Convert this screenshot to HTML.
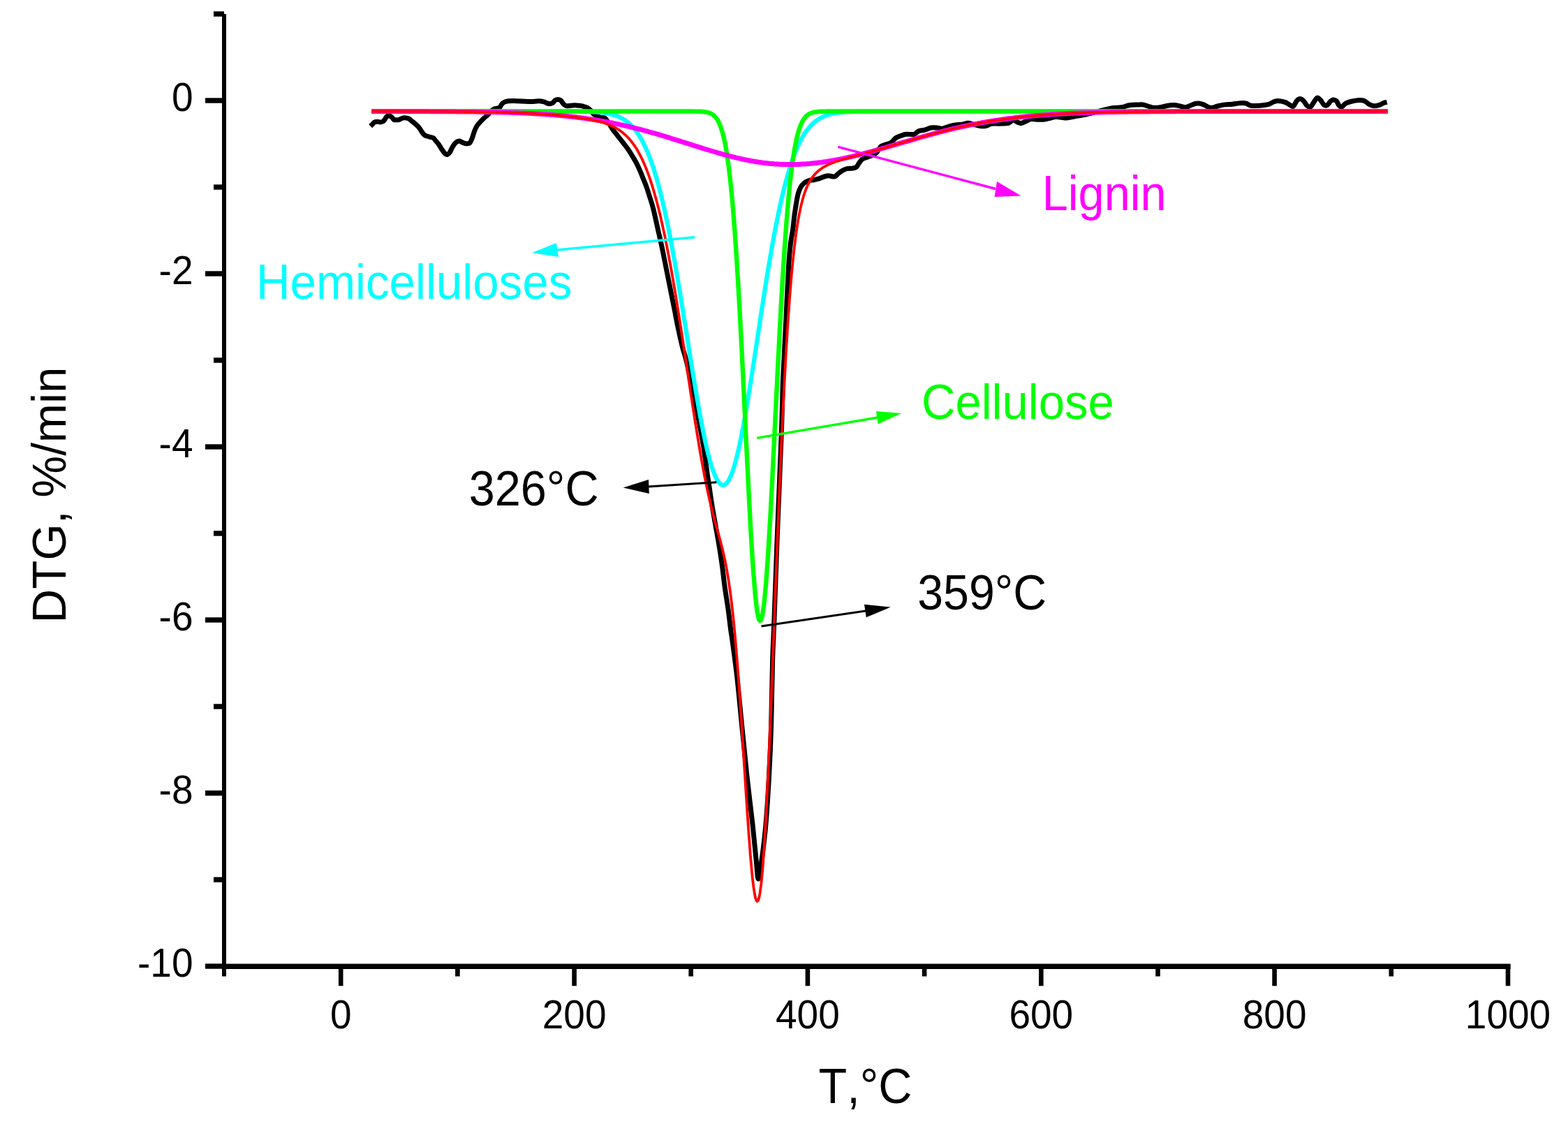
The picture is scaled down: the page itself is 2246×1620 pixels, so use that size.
<!DOCTYPE html>
<html><head><meta charset="utf-8"><title>DTG</title><style>
html,body{margin:0;padding:0;background:#fff;}
svg{display:block;}
.txt text{font-family:"Liberation Sans",Arial,sans-serif;font-kerning:none;white-space:pre;}
.tk{font-size:55px;fill:#000;}
</style></head><body>
<svg width="2246" height="1620" viewBox="0 0 2246 1620">
<rect width="2246" height="1620" fill="#fff"/>
<g fill="none" stroke-linejoin="round" stroke-linecap="butt">
<path d="M530.8,180.7 C531.3,180.2 532.9,178.6 533.9,177.6 C534.9,176.6 535.5,175.4 536.6,174.9 C537.7,174.4 539.2,174.3 540.6,174.3 C542.0,174.3 543.7,175.0 545.0,174.9 C546.3,174.8 547.6,174.7 548.6,174.0 C549.6,173.3 550.5,172.0 551.3,170.9 C552.1,169.8 552.7,168.2 553.5,167.4 C554.3,166.6 555.2,166.2 556.2,166.0 C557.2,165.8 558.3,166.1 559.3,166.5 C560.3,166.9 561.2,167.9 562.0,168.7 C562.8,169.5 563.3,170.9 564.2,171.4 C565.1,171.9 566.0,171.8 567.3,171.8 C568.5,171.8 570.4,171.8 571.7,171.4 C573.0,171.0 574.2,170.1 575.3,169.6 C576.4,169.1 577.1,168.8 578.4,168.7 C579.7,168.6 581.6,168.8 582.9,169.1 C584.2,169.4 585.3,169.8 586.4,170.5 C587.5,171.2 588.3,172.2 589.6,173.2 C590.9,174.2 592.5,175.4 594.0,176.7 C595.5,177.9 597.2,179.4 598.5,180.7 C599.8,182.0 600.5,183.1 601.6,184.7 C602.7,186.3 604.0,188.6 605.1,190.1 C606.2,191.6 607.2,192.8 608.3,193.6 C609.4,194.4 610.5,194.6 611.8,195.0 C613.1,195.4 614.8,195.9 616.3,196.3 C617.8,196.7 619.5,196.8 620.7,197.6 C622.0,198.4 622.5,199.7 623.8,201.2 C625.1,202.7 626.8,204.5 628.3,206.6 C629.8,208.7 631.2,211.5 632.7,213.7 C634.2,215.9 635.9,218.6 637.2,219.9 C638.6,221.2 639.6,221.6 640.8,221.3 C642.0,221.0 643.1,219.9 644.3,218.2 C645.5,216.5 646.6,213.2 647.9,211.0 C649.2,208.8 650.7,206.3 652.3,204.8 C653.9,203.3 656.1,202.2 657.7,202.1 C659.3,201.9 660.5,203.3 662.1,203.9 C663.7,204.5 665.7,205.5 667.5,205.7 C669.3,205.8 671.3,206.1 672.8,204.8 C674.3,203.5 675.2,200.7 676.4,197.7 C677.6,194.7 678.7,190.0 679.9,187.0 C681.1,184.0 682.0,182.1 683.5,179.9 C685.0,177.7 687.0,175.5 688.8,173.6 C690.6,171.7 692.4,169.9 694.2,168.3 C696.0,166.7 698.0,165.3 699.5,163.8 C701.0,162.3 701.6,160.7 703.1,159.4 C704.6,158.1 706.3,156.7 708.4,155.8 C710.5,154.9 713.8,155.3 715.6,154.0 C717.5,152.7 718.0,149.6 719.5,148.2 C721.0,146.8 722.6,145.9 724.8,145.3 C727.0,144.7 730.0,144.5 732.8,144.4 C735.6,144.3 738.3,144.7 741.7,144.8 C745.1,145.0 750.0,145.2 753.3,145.3 C756.6,145.4 758.2,145.6 761.3,145.5 C764.4,145.4 769.0,144.7 772.0,144.8 C775.0,144.9 776.7,145.3 779.1,145.9 C781.5,146.5 784.1,148.4 786.2,148.6 C788.3,148.8 790.1,148.1 791.6,147.3 C793.1,146.5 793.9,144.5 795.1,143.7 C796.3,142.9 797.4,142.4 798.7,142.4 C800.1,142.4 801.9,142.7 803.2,143.7 C804.5,144.7 805.4,147.3 806.7,148.6 C808.0,149.9 809.4,151.2 811.2,151.7 C813.0,152.1 815.3,151.5 817.4,151.3 C819.5,151.2 821.5,150.8 823.6,150.8 C825.7,150.8 828.0,151.1 829.9,151.3 C831.8,151.5 833.3,151.7 835.2,152.2 C837.1,152.7 839.5,153.3 841.4,154.4 C843.3,155.5 845.2,157.2 846.8,158.8 C848.4,160.4 849.0,162.6 851.2,164.2 C853.4,165.8 857.5,167.3 860.0,168.1 C862.5,168.9 864.0,167.8 865.9,168.9 C867.8,170.0 869.2,172.2 871.1,174.8 C873.0,177.4 874.8,181.2 877.0,184.4 C879.2,187.6 881.9,190.9 884.4,194.1 C886.9,197.3 889.4,200.5 891.9,203.7 C894.4,206.9 897.0,210.0 899.3,213.3 C901.6,216.6 903.8,220.2 905.9,223.7 C908.0,227.2 910.0,230.5 911.9,234.1 C913.8,237.7 915.4,241.5 917.0,245.2 C918.6,248.9 920.0,252.6 921.5,256.3 C923.0,260.0 924.5,263.4 925.9,267.4 C927.3,271.3 928.4,274.8 930.0,280.0 C931.6,285.2 933.6,290.6 935.6,298.4 C937.6,306.2 939.9,317.3 942.0,326.8 C944.1,336.3 946.4,345.7 948.4,355.2 C950.4,364.7 952.2,374.1 954.1,383.6 C956.0,393.1 957.9,402.5 959.8,412.0 C961.7,421.5 963.6,430.9 965.5,440.4 C967.4,449.9 969.1,459.3 971.1,468.8 C973.1,478.3 975.4,488.8 977.5,497.2 C979.6,505.6 980.6,505.7 983.7,519.3 C986.8,532.8 992.3,558.8 996.3,578.5 C1000.2,598.2 1004.6,620.9 1007.4,637.8 C1010.2,654.7 1011.9,670.5 1013.3,680.0 C1014.7,689.5 1014.5,687.4 1015.6,694.8 C1016.7,702.2 1018.4,714.5 1020.0,724.4 C1021.6,734.3 1023.5,744.2 1025.2,754.1 C1026.9,764.0 1028.8,773.8 1030.4,783.7 C1032.0,793.6 1033.5,803.4 1034.8,813.3 C1036.1,823.2 1037.1,833.1 1038.5,843.0 C1039.9,852.9 1041.6,862.7 1043.0,872.6 C1044.4,882.5 1045.7,894.8 1046.7,902.2 C1047.7,909.6 1047.4,905.6 1048.9,917.0 C1050.4,928.4 1053.5,949.8 1055.8,970.4 C1058.1,991.0 1060.4,1017.3 1062.8,1040.8 C1065.2,1064.2 1067.4,1087.6 1069.9,1111.1 C1072.5,1134.5 1075.9,1162.0 1078.1,1181.5 C1080.2,1201.0 1081.4,1215.5 1082.8,1228.4 C1084.2,1241.3 1084.8,1259.0 1086.3,1259.0 C1087.8,1259.0 1089.7,1241.3 1091.5,1228.4 C1093.3,1215.5 1095.2,1201.0 1096.9,1181.5 C1098.6,1162.0 1100.3,1134.5 1101.6,1111.1 C1102.9,1087.6 1103.8,1068.3 1104.6,1040.8 C1105.4,1013.3 1105.9,970.8 1106.6,946.0 C1107.3,921.2 1107.7,920.8 1108.8,892.0 C1109.9,863.2 1111.3,818.2 1113.1,773.0 C1114.8,727.8 1117.9,659.5 1119.3,620.8 C1120.7,582.0 1120.6,567.2 1121.7,540.5 C1122.8,513.8 1124.4,487.1 1125.7,460.3 C1127.0,433.6 1128.6,398.8 1129.7,380.0 C1130.8,361.2 1131.6,355.8 1132.6,347.5 C1133.6,339.2 1134.6,336.3 1135.5,330.0 C1136.4,323.7 1137.0,316.1 1137.8,309.6 C1138.6,303.1 1139.7,296.5 1140.6,291.1 C1141.5,285.7 1142.2,281.1 1143.3,277.2 C1144.4,273.3 1145.6,270.5 1147.0,268.0 C1148.4,265.5 1149.9,263.9 1151.7,262.4 C1153.5,260.8 1155.8,259.5 1158.1,258.7 C1160.4,257.9 1163.1,258.3 1165.6,257.8 C1168.1,257.3 1170.5,256.7 1173.0,255.9 C1175.5,255.1 1178.1,253.8 1180.4,253.1 C1182.7,252.4 1184.4,251.8 1186.9,251.8 C1189.4,251.8 1193.2,253.3 1195.2,253.1 C1197.2,252.9 1197.4,251.6 1198.9,250.4 C1200.4,249.2 1202.2,247.1 1204.4,245.7 C1206.6,244.3 1209.1,242.8 1211.9,242.0 C1214.7,241.2 1218.6,241.5 1221.1,241.1 C1223.6,240.7 1225.2,240.5 1226.7,239.3 C1228.2,238.1 1229.0,235.6 1230.4,233.7 C1231.8,231.8 1233.2,229.5 1235.0,228.1 C1236.8,226.7 1239.2,226.3 1241.5,225.4 C1243.8,224.5 1246.6,223.7 1248.9,222.6 C1251.2,221.5 1253.2,221.1 1255.4,218.9 C1257.6,216.7 1259.6,211.6 1261.9,209.6 C1264.2,207.6 1266.8,207.8 1269.3,206.9 C1271.8,206.0 1274.4,205.7 1276.7,204.1 C1279.0,202.5 1281.1,199.1 1283.1,197.6 C1285.1,196.1 1286.5,195.9 1288.9,195.0 C1291.4,194.1 1294.4,192.8 1297.8,192.3 C1301.2,191.9 1306.4,193.0 1309.4,192.3 C1312.4,191.6 1313.1,188.9 1315.6,187.9 C1318.1,186.9 1321.5,186.9 1324.5,186.1 C1327.5,185.3 1330.4,183.5 1333.4,183.0 C1336.4,182.5 1339.6,182.8 1342.3,183.0 C1345.0,183.2 1346.5,184.7 1349.5,184.3 C1352.5,183.9 1356.8,181.7 1360.1,180.8 C1363.3,179.9 1366.0,179.4 1369.0,179.0 C1372.0,178.6 1375.0,178.5 1378.0,178.1 C1381.0,177.7 1383.9,176.2 1386.9,176.3 C1389.9,176.4 1392.5,177.8 1395.8,178.5 C1399.0,179.2 1403.4,180.6 1406.4,180.8 C1409.4,181.0 1411.2,180.5 1413.6,179.9 C1416.0,179.3 1417.7,177.6 1420.7,177.2 C1423.7,176.8 1427.4,177.3 1431.4,177.2 C1435.4,177.0 1441.4,177.2 1444.7,176.3 C1448.0,175.4 1448.8,172.1 1451.0,171.9 C1453.2,171.8 1456.0,174.7 1458.1,175.4 C1460.2,176.1 1461.2,176.8 1463.4,176.3 C1465.6,175.9 1469.1,173.7 1471.5,172.7 C1473.9,171.7 1475.3,170.7 1477.6,170.4 C1479.9,170.2 1482.2,171.1 1485.1,171.2 C1488.0,171.3 1492.1,171.4 1495.0,171.2 C1497.9,170.9 1499.8,170.3 1502.6,169.7 C1505.4,169.1 1508.8,167.7 1511.6,167.4 C1514.4,167.1 1516.7,167.8 1519.2,168.1 C1521.7,168.3 1524.3,168.9 1526.8,168.9 C1529.3,168.9 1531.8,168.2 1534.3,167.8 C1536.8,167.4 1538.7,166.9 1541.9,166.3 C1545.1,165.7 1548.9,165.4 1553.3,164.4 C1557.7,163.4 1563.4,161.9 1568.4,160.6 C1573.4,159.3 1579.1,157.8 1583.5,156.8 C1587.9,155.8 1591.1,155.0 1594.9,154.5 C1598.7,154.0 1602.5,154.4 1606.3,153.8 C1610.1,153.2 1613.8,151.3 1617.6,150.7 C1621.4,150.1 1625.8,150.1 1629.0,150.0 C1632.2,149.9 1634.6,149.6 1637.1,149.9 C1639.6,150.2 1641.8,151.3 1644.2,152.0 C1646.6,152.7 1648.4,153.9 1651.4,154.2 C1654.4,154.5 1658.5,154.3 1662.0,153.8 C1665.5,153.3 1669.5,151.8 1672.7,151.3 C1675.9,150.8 1678.3,150.5 1681.3,150.6 C1684.3,150.7 1687.8,151.5 1690.5,152.0 C1693.2,152.5 1695.3,153.9 1697.7,153.8 C1700.1,153.7 1702.4,152.2 1704.8,151.3 C1707.2,150.4 1709.9,149.0 1711.9,148.5 C1713.9,148.0 1714.9,147.9 1716.9,148.1 C1718.9,148.3 1721.6,149.0 1724.0,149.9 C1726.4,150.8 1729.0,152.8 1731.1,153.5 C1733.2,154.2 1734.6,154.4 1736.8,154.2 C1739.0,153.9 1741.0,152.7 1744.0,152.0 C1747.0,151.3 1751.0,150.4 1754.6,149.9 C1758.1,149.4 1762.3,149.5 1765.3,149.2 C1768.3,148.9 1770.0,148.4 1772.4,148.1 C1774.9,147.8 1777.8,147.3 1780.0,147.4 C1782.2,147.5 1783.9,147.8 1785.9,148.4 C1787.9,149.1 1788.7,150.8 1791.8,151.3 C1794.9,151.8 1800.3,151.6 1804.5,151.3 C1808.7,151.0 1813.9,150.3 1817.2,149.4 C1820.5,148.5 1821.8,146.8 1824.1,146.0 C1826.4,145.2 1828.1,144.4 1830.9,144.5 C1833.7,144.6 1837.9,145.4 1840.7,146.4 C1843.5,147.4 1845.6,149.4 1847.6,150.4 C1849.6,151.4 1850.9,153.3 1852.5,152.3 C1854.1,151.3 1855.8,146.3 1857.4,144.5 C1859.0,142.7 1860.7,141.5 1862.3,141.5 C1863.9,141.5 1865.6,142.9 1867.2,144.5 C1868.8,146.1 1870.5,149.8 1872.1,151.3 C1873.7,152.8 1875.4,154.1 1877.0,153.3 C1878.6,152.5 1880.3,148.6 1881.9,146.4 C1883.5,144.2 1885.2,140.6 1886.8,140.1 C1888.4,139.6 1890.1,141.8 1891.7,143.5 C1893.3,145.2 1895.0,149.2 1896.6,150.4 C1898.2,151.6 1899.9,151.2 1901.4,150.4 C1902.9,149.6 1904.1,146.7 1905.4,145.5 C1906.7,144.3 1907.8,143.2 1909.3,143.0 C1910.8,142.8 1912.7,143.1 1914.2,144.5 C1915.7,145.9 1916.8,149.8 1918.1,151.3 C1919.4,152.8 1920.5,153.8 1922.0,153.3 C1923.5,152.8 1924.8,149.7 1926.9,148.4 C1929.0,147.1 1931.4,146.3 1934.7,145.5 C1938.0,144.7 1943.2,143.7 1946.5,143.5 C1949.8,143.3 1951.8,143.5 1954.3,144.5 C1956.8,145.5 1958.9,148.2 1961.2,149.4 C1963.5,150.6 1965.5,151.6 1968.0,151.8 C1970.5,152.0 1973.6,151.1 1975.9,150.4 C1978.2,149.7 1980.0,148.1 1981.8,147.4 C1983.6,146.7 1985.9,146.6 1986.7,146.4" stroke="#000" stroke-width="7"/>
<path d="M532.0,159.5 L532.8,159.5 L533.7,159.5 L534.5,159.5 L535.3,159.5 L536.2,159.5 L537.0,159.5 L537.9,159.5 L538.7,159.5 L539.5,159.5 L540.4,159.5 L541.2,159.5 L542.0,159.5 L542.9,159.5 L543.7,159.5 L544.5,159.5 L545.4,159.5 L546.2,159.5 L547.0,159.5 L547.9,159.5 L548.7,159.5 L549.6,159.5 L550.4,159.5 L551.2,159.5 L552.1,159.5 L552.9,159.5 L553.7,159.5 L554.6,159.5 L555.4,159.5 L556.2,159.5 L557.1,159.5 L557.9,159.5 L558.7,159.5 L559.6,159.5 L560.4,159.5 L561.3,159.5 L562.1,159.5 L562.9,159.5 L563.8,159.5 L564.6,159.5 L565.4,159.5 L566.3,159.5 L567.1,159.5 L567.9,159.5 L568.8,159.5 L569.6,159.5 L570.5,159.5 L571.3,159.5 L572.1,159.5 L573.0,159.5 L573.8,159.5 L574.6,159.5 L575.5,159.5 L576.3,159.5 L577.1,159.5 L578.0,159.5 L578.8,159.5 L579.6,159.5 L580.5,159.5 L581.3,159.5 L582.2,159.5 L583.0,159.5 L583.8,159.5 L584.7,159.5 L585.5,159.5 L586.3,159.5 L587.2,159.5 L588.0,159.5 L588.8,159.5 L589.7,159.5 L590.5,159.5 L591.3,159.5 L592.2,159.5 L593.0,159.5 L593.9,159.5 L594.7,159.5 L595.5,159.5 L596.4,159.5 L597.2,159.5 L598.0,159.5 L598.9,159.5 L599.7,159.5 L600.5,159.5 L601.4,159.5 L602.2,159.5 L603.1,159.5 L603.9,159.5 L604.7,159.5 L605.6,159.5 L606.4,159.5 L607.2,159.5 L608.1,159.5 L608.9,159.5 L609.7,159.5 L610.6,159.5 L611.4,159.5 L612.2,159.5 L613.1,159.5 L613.9,159.5 L614.8,159.5 L615.6,159.5 L616.4,159.5 L617.3,159.5 L618.1,159.5 L618.9,159.5 L619.8,159.5 L620.6,159.5 L621.4,159.5 L622.3,159.5 L623.1,159.5 L623.9,159.5 L624.8,159.5 L625.6,159.5 L626.5,159.5 L627.3,159.5 L628.1,159.5 L629.0,159.5 L629.8,159.5 L630.6,159.5 L631.5,159.5 L632.3,159.5 L633.1,159.5 L634.0,159.5 L634.8,159.5 L635.7,159.5 L636.5,159.5 L637.3,159.5 L638.2,159.5 L639.0,159.5 L639.8,159.5 L640.7,159.5 L641.5,159.5 L642.3,159.5 L643.2,159.5 L644.0,159.5 L644.8,159.5 L645.7,159.5 L646.5,159.5 L647.4,159.5 L648.2,159.5 L649.0,159.5 L649.9,159.5 L650.7,159.5 L651.5,159.5 L652.4,159.5 L653.2,159.5 L654.0,159.5 L654.9,159.5 L655.7,159.5 L656.5,159.5 L657.4,159.5 L658.2,159.5 L659.1,159.5 L659.9,159.5 L660.7,159.5 L661.6,159.5 L662.4,159.5 L663.2,159.5 L664.1,159.5 L664.9,159.5 L665.7,159.5 L666.6,159.5 L667.4,159.5 L668.3,159.5 L669.1,159.5 L669.9,159.5 L670.8,159.5 L671.6,159.5 L672.4,159.5 L673.3,159.5 L674.1,159.5 L674.9,159.5 L675.8,159.5 L676.6,159.5 L677.4,159.5 L678.3,159.5 L679.1,159.5 L680.0,159.5 L680.8,159.5 L681.6,159.5 L682.5,159.5 L683.3,159.5 L684.1,159.5 L685.0,159.5 L685.8,159.5 L686.6,159.5 L687.5,159.5 L688.3,159.5 L689.1,159.5 L690.0,159.5 L690.8,159.5 L691.7,159.5 L692.5,159.5 L693.3,159.5 L694.2,159.5 L695.0,159.5 L695.8,159.5 L696.7,159.5 L697.5,159.5 L698.3,159.5 L699.2,159.5 L700.0,159.5 L700.9,159.5 L701.7,159.5 L702.5,159.5 L703.4,159.5 L704.2,159.5 L705.0,159.5 L705.9,159.5 L706.7,159.5 L707.5,159.5 L708.4,159.5 L709.2,159.5 L710.0,159.5 L710.9,159.5 L711.7,159.5 L712.6,159.5 L713.4,159.5 L714.2,159.5 L715.1,159.5 L715.9,159.5 L716.7,159.5 L717.6,159.5 L718.4,159.5 L719.2,159.5 L720.1,159.5 L720.9,159.5 L721.7,159.5 L722.6,159.5 L723.4,159.5 L724.3,159.5 L725.1,159.5 L725.9,159.5 L726.8,159.5 L727.6,159.5 L728.4,159.5 L729.3,159.5 L730.1,159.5 L730.9,159.5 L731.8,159.5 L732.6,159.5 L733.5,159.5 L734.3,159.5 L735.1,159.5 L736.0,159.5 L736.8,159.5 L737.6,159.5 L738.5,159.5 L739.3,159.5 L740.1,159.5 L741.0,159.5 L741.8,159.5 L742.6,159.5 L743.5,159.5 L744.3,159.5 L745.2,159.5 L746.0,159.5 L746.8,159.5 L747.7,159.5 L748.5,159.5 L749.3,159.5 L750.2,159.5 L751.0,159.5 L751.8,159.5 L752.7,159.5 L753.5,159.5 L754.3,159.5 L755.2,159.5 L756.0,159.5 L756.9,159.5 L757.7,159.5 L758.5,159.5 L759.4,159.5 L760.2,159.5 L761.0,159.5 L761.9,159.5 L762.7,159.5 L763.5,159.5 L764.4,159.5 L765.2,159.5 L766.1,159.5 L766.9,159.5 L767.7,159.5 L768.6,159.5 L769.4,159.5 L770.2,159.5 L771.1,159.5 L771.9,159.5 L772.7,159.5 L773.6,159.5 L774.4,159.5 L775.2,159.5 L776.1,159.5 L776.9,159.5 L777.8,159.5 L778.6,159.5 L779.4,159.5 L780.3,159.5 L781.1,159.5 L781.9,159.5 L782.8,159.5 L783.6,159.5 L784.4,159.5 L785.3,159.5 L786.1,159.5 L786.9,159.5 L787.8,159.5 L788.6,159.5 L789.5,159.5 L790.3,159.5 L791.1,159.5 L792.0,159.5 L792.8,159.5 L793.6,159.5 L794.5,159.5 L795.3,159.5 L796.1,159.5 L797.0,159.5 L797.8,159.5 L798.7,159.5 L799.5,159.5 L800.3,159.5 L801.2,159.5 L802.0,159.5 L802.8,159.5 L803.7,159.5 L804.5,159.5 L805.3,159.5 L806.2,159.5 L807.0,159.5 L807.8,159.5 L808.7,159.5 L809.5,159.5 L810.4,159.5 L811.2,159.5 L812.0,159.5 L812.9,159.5 L813.7,159.5 L814.5,159.6 L815.4,159.6 L816.2,159.6 L817.0,159.6 L817.9,159.6 L818.7,159.6 L819.5,159.6 L820.4,159.6 L821.2,159.6 L822.1,159.6 L822.9,159.6 L823.7,159.6 L824.6,159.6 L825.4,159.6 L826.2,159.6 L827.1,159.6 L827.9,159.7 L828.7,159.7 L829.6,159.7 L830.4,159.7 L831.3,159.7 L832.1,159.7 L832.9,159.7 L833.8,159.7 L834.6,159.8 L835.4,159.8 L836.3,159.8 L837.1,159.8 L837.9,159.8 L838.8,159.8 L839.6,159.9 L840.4,159.9 L841.3,159.9 L842.1,159.9 L843.0,160.0 L843.8,160.0 L844.6,160.0 L845.5,160.1 L846.3,160.1 L847.1,160.1 L848.0,160.2 L848.8,160.2 L849.6,160.3 L850.5,160.3 L851.3,160.4 L852.1,160.4 L853.0,160.5 L853.8,160.5 L854.7,160.6 L855.5,160.6 L856.3,160.7 L857.2,160.8 L858.0,160.9 L858.8,160.9 L859.7,161.0 L860.5,161.1 L861.3,161.2 L862.2,161.3 L863.0,161.4 L863.9,161.5 L864.7,161.6 L865.5,161.7 L866.4,161.9 L867.2,162.0 L868.0,162.1 L868.9,162.3 L869.7,162.4 L870.5,162.6 L871.4,162.7 L872.2,162.9 L873.0,163.1 L873.9,163.3 L874.7,163.5 L875.6,163.7 L876.4,163.9 L877.2,164.1 L878.1,164.4 L878.9,164.6 L879.7,164.9 L880.6,165.1 L881.4,165.4 L882.2,165.7 L883.1,166.0 L883.9,166.3 L884.7,166.7 L885.6,167.0 L886.4,167.4 L887.3,167.8 L888.1,168.2 L888.9,168.6 L889.8,169.0 L890.6,169.4 L891.4,169.9 L892.3,170.4 L893.1,170.9 L893.9,171.4 L894.8,172.0 L895.6,172.5 L896.5,173.1 L897.3,173.7 L898.1,174.4 L899.0,175.0 L899.8,175.7 L900.6,176.4 L901.5,177.2 L902.3,177.9 L903.1,178.7 L904.0,179.5 L904.8,180.4 L905.6,181.3 L906.5,182.2 L907.3,183.1 L908.2,184.1 L909.0,185.1 L909.8,186.1 L910.7,187.2 L911.5,188.3 L912.3,189.5 L913.2,190.7 L914.0,191.9 L914.8,193.2 L915.7,194.5 L916.5,195.8 L917.3,197.2 L918.2,198.6 L919.0,200.1 L919.9,201.6 L920.7,203.2 L921.5,204.8 L922.4,206.5 L923.2,208.2 L924.0,209.9 L924.9,211.7 L925.7,213.6 L926.5,215.5 L927.4,217.4 L928.2,219.5 L929.1,221.5 L929.9,223.6 L930.7,225.8 L931.6,228.0 L932.4,230.3 L933.2,232.7 L934.1,235.1 L934.9,237.5 L935.7,240.1 L936.6,242.6 L937.4,245.3 L938.2,248.0 L939.1,250.7 L939.9,253.5 L940.8,256.4 L941.6,259.4 L942.4,262.4 L943.3,265.4 L944.1,268.6 L944.9,271.7 L945.8,275.0 L946.6,278.3 L947.4,281.7 L948.3,285.1 L949.1,288.6 L949.9,292.2 L950.8,295.8 L951.6,299.5 L952.5,303.3 L953.3,307.1 L954.1,311.0 L955.0,314.9 L955.8,318.9 L956.6,323.0 L957.5,327.1 L958.3,331.3 L959.1,335.5 L960.0,339.8 L960.8,344.2 L961.7,348.6 L962.5,353.0 L963.3,357.6 L964.2,362.1 L965.0,366.7 L965.8,371.4 L966.7,376.1 L967.5,380.9 L968.3,385.7 L969.2,390.5 L970.0,395.4 L970.8,400.3 L971.7,405.3 L972.5,410.3 L973.4,415.3 L974.2,420.4 L975.0,425.5 L975.9,430.6 L976.7,435.7 L977.5,440.9 L978.4,446.1 L979.2,451.3 L980.0,456.5 L980.9,461.8 L981.7,467.0 L982.6,472.3 L983.4,477.6 L984.2,482.9 L985.1,488.1 L985.9,493.4 L986.7,498.7 L987.6,503.9 L988.4,509.2 L989.2,514.4 L990.1,519.6 L990.9,524.8 L991.7,530.0 L992.6,535.2 L993.4,540.3 L994.3,545.4 L995.1,550.4 L995.9,555.4 L996.8,560.4 L997.6,565.3 L998.4,570.2 L999.3,575.0 L1000.1,579.8 L1000.9,584.5 L1001.8,589.2 L1002.6,593.8 L1003.4,598.3 L1004.3,602.8 L1005.1,607.2 L1006.0,611.5 L1006.8,615.7 L1007.6,619.9 L1008.5,623.9 L1009.3,627.9 L1010.1,631.8 L1011.0,635.6 L1011.8,639.3 L1012.6,642.9 L1013.5,646.4 L1014.3,649.8 L1015.2,653.0 L1016.0,656.2 L1016.8,659.3 L1017.7,662.2 L1018.5,665.1 L1019.3,667.8 L1020.2,670.4 L1021.0,672.9 L1021.8,675.2 L1022.7,677.4 L1023.5,679.5 L1024.3,681.5 L1025.2,683.3 L1026.0,685.0 L1026.9,686.6 L1027.7,688.1 L1028.5,689.4 L1029.4,690.5 L1030.2,691.5 L1031.0,692.4 L1031.9,693.2 L1032.7,693.8 L1033.5,694.3 L1034.4,694.6 L1035.2,694.8 L1036.0,694.8 L1036.9,694.7 L1037.7,694.4 L1038.6,694.0 L1039.4,693.4 L1040.2,692.7 L1041.1,691.8 L1041.9,690.8 L1042.7,689.6 L1043.6,688.3 L1044.4,686.8 L1045.2,685.2 L1046.1,683.4 L1046.9,681.5 L1047.8,679.4 L1048.6,677.2 L1049.4,674.9 L1050.3,672.4 L1051.1,669.8 L1051.9,667.0 L1052.8,664.1 L1053.6,661.1 L1054.4,658.0 L1055.3,654.7 L1056.1,651.3 L1056.9,647.8 L1057.8,644.2 L1058.6,640.4 L1059.5,636.6 L1060.3,632.6 L1061.1,628.6 L1062.0,624.4 L1062.8,620.2 L1063.6,615.8 L1064.5,611.4 L1065.3,606.9 L1066.1,602.3 L1067.0,597.6 L1067.8,592.8 L1068.6,588.0 L1069.5,583.1 L1070.3,578.1 L1071.2,573.1 L1072.0,568.0 L1072.8,562.9 L1073.7,557.7 L1074.5,552.5 L1075.3,547.2 L1076.2,541.9 L1077.0,536.5 L1077.8,531.1 L1078.7,525.7 L1079.5,520.3 L1080.4,514.8 L1081.2,509.3 L1082.0,503.8 L1082.9,498.3 L1083.7,492.8 L1084.5,487.3 L1085.4,481.7 L1086.2,476.2 L1087.0,470.7 L1087.9,465.2 L1088.7,459.7 L1089.5,454.2 L1090.4,448.7 L1091.2,443.2 L1092.1,437.8 L1092.9,432.4 L1093.7,427.0 L1094.6,421.7 L1095.4,416.4 L1096.2,411.1 L1097.1,405.8 L1097.9,400.6 L1098.7,395.5 L1099.6,390.4 L1100.4,385.3 L1101.2,380.3 L1102.1,375.3 L1102.9,370.4 L1103.8,365.5 L1104.6,360.7 L1105.4,355.9 L1106.3,351.2 L1107.1,346.5 L1107.9,342.0 L1108.8,337.4 L1109.6,333.0 L1110.4,328.6 L1111.3,324.2 L1112.1,320.0 L1113.0,315.7 L1113.8,311.6 L1114.6,307.5 L1115.5,303.5 L1116.3,299.6 L1117.1,295.7 L1118.0,291.9 L1118.8,288.2 L1119.6,284.5 L1120.5,280.9 L1121.3,277.4 L1122.1,273.9 L1123.0,270.6 L1123.8,267.2 L1124.7,264.0 L1125.5,260.8 L1126.3,257.7 L1127.2,254.6 L1128.0,251.7 L1128.8,248.8 L1129.7,245.9 L1130.5,243.1 L1131.3,240.4 L1132.2,237.8 L1133.0,235.2 L1133.8,232.7 L1134.7,230.2 L1135.5,227.8 L1136.4,225.5 L1137.2,223.2 L1138.0,221.0 L1138.9,218.9 L1139.7,216.8 L1140.5,214.8 L1141.4,212.8 L1142.2,210.9 L1143.0,209.0 L1143.9,207.2 L1144.7,205.4 L1145.6,203.7 L1146.4,202.1 L1147.2,200.5 L1148.1,198.9 L1148.9,197.4 L1149.7,195.9 L1150.6,194.5 L1151.4,193.1 L1152.2,191.8 L1153.1,190.5 L1153.9,189.3 L1154.7,188.1 L1155.6,186.9 L1156.4,185.8 L1157.3,184.7 L1158.1,183.7 L1158.9,182.7 L1159.8,181.7 L1160.6,180.8 L1161.4,179.9 L1162.3,179.0 L1163.1,178.2 L1163.9,177.4 L1164.8,176.6 L1165.6,175.8 L1166.4,175.1 L1167.3,174.4 L1168.1,173.8 L1169.0,173.1 L1169.8,172.5 L1170.6,171.9 L1171.5,171.3 L1172.3,170.8 L1173.1,170.3 L1174.0,169.8 L1174.8,169.3 L1175.6,168.8 L1176.5,168.4 L1177.3,168.0 L1178.2,167.6 L1179.0,167.2 L1179.8,166.8 L1180.7,166.4 L1181.5,166.1 L1182.3,165.8 L1183.2,165.5 L1184.0,165.2 L1184.8,164.9 L1185.7,164.6 L1186.5,164.3 L1187.3,164.1 L1188.2,163.9 L1189.0,163.6 L1189.9,163.4 L1190.7,163.2 L1191.5,163.0 L1192.4,162.8 L1193.2,162.7 L1194.0,162.5 L1194.9,162.3 L1195.7,162.2 L1196.5,162.0 L1197.4,161.9 L1198.2,161.8 L1199.0,161.6 L1199.9,161.5 L1200.7,161.4 L1201.6,161.3 L1202.4,161.2 L1203.2,161.1 L1204.1,161.0 L1204.9,160.9 L1205.7,160.9 L1206.6,160.8 L1207.4,160.7 L1208.2,160.6 L1209.1,160.6 L1209.9,160.5 L1210.8,160.4 L1211.6,160.4 L1212.4,160.3 L1213.3,160.3 L1214.1,160.2 L1214.9,160.2 L1215.8,160.2 L1216.6,160.1 L1217.4,160.1 L1218.3,160.0 L1219.1,160.0 L1219.9,160.0 L1220.8,159.9 L1221.6,159.9 L1222.5,159.9 L1223.3,159.9 L1224.1,159.8 L1225.0,159.8 L1225.8,159.8 L1226.6,159.8 L1227.5,159.8 L1228.3,159.7 L1229.1,159.7 L1230.0,159.7 L1230.8,159.7 L1231.6,159.7 L1232.5,159.7 L1233.3,159.7 L1234.2,159.7 L1235.0,159.6 L1235.8,159.6 L1236.7,159.6 L1237.5,159.6 L1238.3,159.6 L1239.2,159.6 L1240.0,159.6 L1240.8,159.6 L1241.7,159.6 L1242.5,159.6 L1243.4,159.6 L1244.2,159.6 L1245.0,159.6 L1245.9,159.6 L1246.7,159.6 L1247.5,159.5 L1248.4,159.5 L1249.2,159.5 L1250.0,159.5 L1250.9,159.5 L1251.7,159.5 L1252.5,159.5 L1253.4,159.5 L1254.2,159.5 L1255.1,159.5 L1255.9,159.5 L1256.7,159.5 L1257.6,159.5 L1258.4,159.5 L1259.2,159.5 L1260.1,159.5 L1260.9,159.5 L1261.7,159.5 L1262.6,159.5 L1263.4,159.5 L1264.2,159.5 L1265.1,159.5 L1265.9,159.5 L1266.8,159.5 L1267.6,159.5 L1268.4,159.5 L1269.3,159.5 L1270.1,159.5 L1270.9,159.5 L1271.8,159.5 L1272.6,159.5 L1273.4,159.5 L1274.3,159.5 L1275.1,159.5 L1276.0,159.5 L1276.8,159.5 L1277.6,159.5 L1278.5,159.5 L1279.3,159.5 L1280.1,159.5 L1281.0,159.5 L1281.8,159.5 L1282.6,159.5 L1283.5,159.5 L1284.3,159.5 L1285.1,159.5 L1286.0,159.5 L1286.8,159.5 L1287.7,159.5 L1288.5,159.5 L1289.3,159.5 L1290.2,159.5 L1291.0,159.5 L1291.8,159.5 L1292.7,159.5 L1293.5,159.5 L1294.3,159.5 L1295.2,159.5 L1296.0,159.5 L1296.8,159.5 L1297.7,159.5 L1298.5,159.5 L1299.4,159.5 L1300.2,159.5 L1301.0,159.5 L1301.9,159.5 L1302.7,159.5 L1303.5,159.5 L1304.4,159.5 L1305.2,159.5 L1306.0,159.5 L1306.9,159.5 L1307.7,159.5 L1308.6,159.5 L1309.4,159.5 L1310.2,159.5 L1311.1,159.5 L1311.9,159.5 L1312.7,159.5 L1313.6,159.5 L1314.4,159.5 L1315.2,159.5 L1316.1,159.5 L1316.9,159.5 L1317.7,159.5 L1318.6,159.5 L1319.4,159.5 L1320.3,159.5 L1321.1,159.5 L1321.9,159.5 L1322.8,159.5 L1323.6,159.5 L1324.4,159.5 L1325.3,159.5 L1326.1,159.5 L1326.9,159.5 L1327.8,159.5 L1328.6,159.5 L1329.4,159.5 L1330.3,159.5 L1331.1,159.5 L1332.0,159.5 L1332.8,159.5 L1333.6,159.5 L1334.5,159.5 L1335.3,159.5 L1336.1,159.5 L1337.0,159.5 L1337.8,159.5 L1338.6,159.5 L1339.5,159.5 L1340.3,159.5 L1341.2,159.5 L1342.0,159.5 L1342.8,159.5 L1343.7,159.5 L1344.5,159.5 L1345.3,159.5 L1346.2,159.5 L1347.0,159.5 L1347.8,159.5 L1348.7,159.5 L1349.5,159.5 L1350.3,159.5 L1351.2,159.5 L1352.0,159.5 L1352.9,159.5 L1353.7,159.5 L1354.5,159.5 L1355.4,159.5 L1356.2,159.5 L1357.0,159.5 L1357.9,159.5 L1358.7,159.5 L1359.5,159.5 L1360.4,159.5 L1361.2,159.5 L1362.0,159.5 L1362.9,159.5 L1363.7,159.5 L1364.6,159.5 L1365.4,159.5 L1366.2,159.5 L1367.1,159.5 L1367.9,159.5 L1368.7,159.5 L1369.6,159.5 L1370.4,159.5 L1371.2,159.5 L1372.1,159.5 L1372.9,159.5 L1373.8,159.5 L1374.6,159.5 L1375.4,159.5 L1376.3,159.5 L1377.1,159.5 L1377.9,159.5 L1378.8,159.5 L1379.6,159.5 L1380.4,159.5 L1381.3,159.5 L1382.1,159.5 L1382.9,159.5 L1383.8,159.5 L1384.6,159.5 L1385.5,159.5 L1386.3,159.5 L1387.1,159.5 L1388.0,159.5 L1388.8,159.5 L1389.6,159.5 L1390.5,159.5 L1391.3,159.5 L1392.1,159.5 L1393.0,159.5 L1393.8,159.5 L1394.6,159.5 L1395.5,159.5 L1396.3,159.5 L1397.2,159.5 L1398.0,159.5 L1398.8,159.5 L1399.7,159.5 L1400.5,159.5 L1401.3,159.5 L1402.2,159.5 L1403.0,159.5 L1403.8,159.5 L1404.7,159.5 L1405.5,159.5 L1406.4,159.5 L1407.2,159.5 L1408.0,159.5 L1408.9,159.5 L1409.7,159.5 L1410.5,159.5 L1411.4,159.5 L1412.2,159.5 L1413.0,159.5 L1413.9,159.5 L1414.7,159.5 L1415.5,159.5 L1416.4,159.5 L1417.2,159.5 L1418.1,159.5 L1418.9,159.5 L1419.7,159.5 L1420.6,159.5 L1421.4,159.5 L1422.2,159.5 L1423.1,159.5 L1423.9,159.5 L1424.7,159.5 L1425.6,159.5 L1426.4,159.5 L1427.2,159.5 L1428.1,159.5 L1428.9,159.5 L1429.8,159.5 L1430.6,159.5 L1431.4,159.5 L1432.3,159.5 L1433.1,159.5 L1433.9,159.5 L1434.8,159.5 L1435.6,159.5 L1436.4,159.5 L1437.3,159.5 L1438.1,159.5 L1439.0,159.5 L1439.8,159.5 L1440.6,159.5 L1441.5,159.5 L1442.3,159.5 L1443.1,159.5 L1444.0,159.5 L1444.8,159.5 L1445.6,159.5 L1446.5,159.5 L1447.3,159.5 L1448.1,159.5 L1449.0,159.5 L1449.8,159.5 L1450.7,159.5 L1451.5,159.5 L1452.3,159.5 L1453.2,159.5 L1454.0,159.5 L1454.8,159.5 L1455.7,159.5 L1456.5,159.5 L1457.3,159.5 L1458.2,159.5 L1459.0,159.5 L1459.8,159.5 L1460.7,159.5 L1461.5,159.5 L1462.4,159.5 L1463.2,159.5 L1464.0,159.5 L1464.9,159.5 L1465.7,159.5 L1466.5,159.5 L1467.4,159.5 L1468.2,159.5 L1469.0,159.5 L1469.9,159.5 L1470.7,159.5 L1471.6,159.5 L1472.4,159.5 L1473.2,159.5 L1474.1,159.5 L1474.9,159.5 L1475.7,159.5 L1476.6,159.5 L1477.4,159.5 L1478.2,159.5 L1479.1,159.5 L1479.9,159.5 L1480.7,159.5 L1481.6,159.5 L1482.4,159.5 L1483.3,159.5 L1484.1,159.5 L1484.9,159.5 L1485.8,159.5 L1486.6,159.5 L1487.4,159.5 L1488.3,159.5 L1489.1,159.5 L1489.9,159.5 L1490.8,159.5 L1491.6,159.5 L1492.4,159.5 L1493.3,159.5 L1494.1,159.5 L1495.0,159.5 L1495.8,159.5 L1496.6,159.5 L1497.5,159.5 L1498.3,159.5 L1499.1,159.5 L1500.0,159.5 L1500.8,159.5 L1501.6,159.5 L1502.5,159.5 L1503.3,159.5 L1504.2,159.5 L1505.0,159.5 L1505.8,159.5 L1506.7,159.5 L1507.5,159.5 L1508.3,159.5 L1509.2,159.5 L1510.0,159.5 L1510.8,159.5 L1511.7,159.5 L1512.5,159.5 L1513.3,159.5 L1514.2,159.5 L1515.0,159.5 L1515.9,159.5 L1516.7,159.5 L1517.5,159.5 L1518.4,159.5 L1519.2,159.5 L1520.0,159.5 L1520.9,159.5 L1521.7,159.5 L1522.5,159.5 L1523.4,159.5 L1524.2,159.5 L1525.0,159.5 L1525.9,159.5 L1526.7,159.5 L1527.6,159.5 L1528.4,159.5 L1529.2,159.5 L1530.1,159.5 L1530.9,159.5 L1531.7,159.5 L1532.6,159.5 L1533.4,159.5 L1534.2,159.5 L1535.1,159.5 L1535.9,159.5 L1536.8,159.5 L1537.6,159.5 L1538.4,159.5 L1539.3,159.5 L1540.1,159.5 L1540.9,159.5 L1541.8,159.5 L1542.6,159.5 L1543.4,159.5 L1544.3,159.5 L1545.1,159.5 L1545.9,159.5 L1546.8,159.5 L1547.6,159.5 L1548.5,159.5 L1549.3,159.5 L1550.1,159.5 L1551.0,159.5 L1551.8,159.5 L1552.6,159.5 L1553.5,159.5 L1554.3,159.5 L1555.1,159.5 L1556.0,159.5 L1556.8,159.5 L1557.6,159.5 L1558.5,159.5 L1559.3,159.5 L1560.2,159.5 L1561.0,159.5 L1561.8,159.5 L1562.7,159.5 L1563.5,159.5 L1564.3,159.5 L1565.2,159.5 L1566.0,159.5 L1566.8,159.5 L1567.7,159.5 L1568.5,159.5 L1569.4,159.5 L1570.2,159.5 L1571.0,159.5 L1571.9,159.5 L1572.7,159.5 L1573.5,159.5 L1574.4,159.5 L1575.2,159.5 L1576.0,159.5 L1576.9,159.5 L1577.7,159.5 L1578.5,159.5 L1579.4,159.5 L1580.2,159.5 L1581.1,159.5 L1581.9,159.5 L1582.7,159.5 L1583.6,159.5 L1584.4,159.5 L1585.2,159.5 L1586.1,159.5 L1586.9,159.5 L1587.7,159.5 L1588.6,159.5 L1589.4,159.5 L1590.2,159.5 L1591.1,159.5 L1591.9,159.5 L1592.8,159.5 L1593.6,159.5 L1594.4,159.5 L1595.3,159.5 L1596.1,159.5 L1596.9,159.5 L1597.8,159.5 L1598.6,159.5 L1599.4,159.5 L1600.3,159.5 L1601.1,159.5 L1602.0,159.5 L1602.8,159.5 L1603.6,159.5 L1604.5,159.5 L1605.3,159.5 L1606.1,159.5 L1607.0,159.5 L1607.8,159.5 L1608.6,159.5 L1609.5,159.5 L1610.3,159.5 L1611.1,159.5 L1612.0,159.5 L1612.8,159.5 L1613.7,159.5 L1614.5,159.5 L1615.3,159.5 L1616.2,159.5 L1617.0,159.5 L1617.8,159.5 L1618.7,159.5 L1619.5,159.5 L1620.3,159.5 L1621.2,159.5 L1622.0,159.5 L1622.8,159.5 L1623.7,159.5 L1624.5,159.5 L1625.4,159.5 L1626.2,159.5 L1627.0,159.5 L1627.9,159.5 L1628.7,159.5 L1629.5,159.5 L1630.4,159.5 L1631.2,159.5 L1632.0,159.5 L1632.9,159.5 L1633.7,159.5 L1634.6,159.5 L1635.4,159.5 L1636.2,159.5 L1637.1,159.5 L1637.9,159.5 L1638.7,159.5 L1639.6,159.5 L1640.4,159.5 L1641.2,159.5 L1642.1,159.5 L1642.9,159.5 L1643.7,159.5 L1644.6,159.5 L1645.4,159.5 L1646.3,159.5 L1647.1,159.5 L1647.9,159.5 L1648.8,159.5 L1649.6,159.5 L1650.4,159.5 L1651.3,159.5 L1652.1,159.5 L1652.9,159.5 L1653.8,159.5 L1654.6,159.5 L1655.4,159.5 L1656.3,159.5 L1657.1,159.5 L1658.0,159.5 L1658.8,159.5 L1659.6,159.5 L1660.5,159.5 L1661.3,159.5 L1662.1,159.5 L1663.0,159.5 L1663.8,159.5 L1664.6,159.5 L1665.5,159.5 L1666.3,159.5 L1667.2,159.5 L1668.0,159.5 L1668.8,159.5 L1669.7,159.5 L1670.5,159.5 L1671.3,159.5 L1672.2,159.5 L1673.0,159.5 L1673.8,159.5 L1674.7,159.5 L1675.5,159.5 L1676.3,159.5 L1677.2,159.5 L1678.0,159.5 L1678.9,159.5 L1679.7,159.5 L1680.5,159.5 L1681.4,159.5 L1682.2,159.5 L1683.0,159.5 L1683.9,159.5 L1684.7,159.5 L1685.5,159.5 L1686.4,159.5 L1687.2,159.5 L1688.0,159.5 L1688.9,159.5 L1689.7,159.5 L1690.6,159.5 L1691.4,159.5 L1692.2,159.5 L1693.1,159.5 L1693.9,159.5 L1694.7,159.5 L1695.6,159.5 L1696.4,159.5 L1697.2,159.5 L1698.1,159.5 L1698.9,159.5 L1699.8,159.5 L1700.6,159.5 L1701.4,159.5 L1702.3,159.5 L1703.1,159.5 L1703.9,159.5 L1704.8,159.5 L1705.6,159.5 L1706.4,159.5 L1707.3,159.5 L1708.1,159.5 L1708.9,159.5 L1709.8,159.5 L1710.6,159.5 L1711.5,159.5 L1712.3,159.5 L1713.1,159.5 L1714.0,159.5 L1714.8,159.5 L1715.6,159.5 L1716.5,159.5 L1717.3,159.5 L1718.1,159.5 L1719.0,159.5 L1719.8,159.5 L1720.6,159.5 L1721.5,159.5 L1722.3,159.5 L1723.2,159.5 L1724.0,159.5 L1724.8,159.5 L1725.7,159.5 L1726.5,159.5 L1727.3,159.5 L1728.2,159.5 L1729.0,159.5 L1729.8,159.5 L1730.7,159.5 L1731.5,159.5 L1732.4,159.5 L1733.2,159.5 L1734.0,159.5 L1734.9,159.5 L1735.7,159.5 L1736.5,159.5 L1737.4,159.5 L1738.2,159.5 L1739.0,159.5 L1739.9,159.5 L1740.7,159.5 L1741.5,159.5 L1742.4,159.5 L1743.2,159.5 L1744.1,159.5 L1744.9,159.5 L1745.7,159.5 L1746.6,159.5 L1747.4,159.5 L1748.2,159.5 L1749.1,159.5 L1749.9,159.5 L1750.7,159.5 L1751.6,159.5 L1752.4,159.5 L1753.2,159.5 L1754.1,159.5 L1754.9,159.5 L1755.8,159.5 L1756.6,159.5 L1757.4,159.5 L1758.3,159.5 L1759.1,159.5 L1759.9,159.5 L1760.8,159.5 L1761.6,159.5 L1762.4,159.5 L1763.3,159.5 L1764.1,159.5 L1765.0,159.5 L1765.8,159.5 L1766.6,159.5 L1767.5,159.5 L1768.3,159.5 L1769.1,159.5 L1770.0,159.5 L1770.8,159.5 L1771.6,159.5 L1772.5,159.5 L1773.3,159.5 L1774.1,159.5 L1775.0,159.5 L1775.8,159.5 L1776.7,159.5 L1777.5,159.5 L1778.3,159.5 L1779.2,159.5 L1780.0,159.5 L1780.8,159.5 L1781.7,159.5 L1782.5,159.5 L1783.3,159.5 L1784.2,159.5 L1785.0,159.5 L1785.9,159.5 L1786.7,159.5 L1787.5,159.5 L1788.4,159.5 L1789.2,159.5 L1790.0,159.5 L1790.9,159.5 L1791.7,159.5 L1792.5,159.5 L1793.4,159.5 L1794.2,159.5 L1795.0,159.5 L1795.9,159.5 L1796.7,159.5 L1797.6,159.5 L1798.4,159.5 L1799.2,159.5 L1800.1,159.5 L1800.9,159.5 L1801.7,159.5 L1802.6,159.5 L1803.4,159.5 L1804.2,159.5 L1805.1,159.5 L1805.9,159.5 L1806.7,159.5 L1807.6,159.5 L1808.4,159.5 L1809.3,159.5 L1810.1,159.5 L1810.9,159.5 L1811.8,159.5 L1812.6,159.5 L1813.4,159.5 L1814.3,159.5 L1815.1,159.5 L1815.9,159.5 L1816.8,159.5 L1817.6,159.5 L1818.5,159.5 L1819.3,159.5 L1820.1,159.5 L1821.0,159.5 L1821.8,159.5 L1822.6,159.5 L1823.5,159.5 L1824.3,159.5 L1825.1,159.5 L1826.0,159.5 L1826.8,159.5 L1827.6,159.5 L1828.5,159.5 L1829.3,159.5 L1830.2,159.5 L1831.0,159.5 L1831.8,159.5 L1832.7,159.5 L1833.5,159.5 L1834.3,159.5 L1835.2,159.5 L1836.0,159.5 L1836.8,159.5 L1837.7,159.5 L1838.5,159.5 L1839.3,159.5 L1840.2,159.5 L1841.0,159.5 L1841.9,159.5 L1842.7,159.5 L1843.5,159.5 L1844.4,159.5 L1845.2,159.5 L1846.0,159.5 L1846.9,159.5 L1847.7,159.5 L1848.5,159.5 L1849.4,159.5 L1850.2,159.5 L1851.1,159.5 L1851.9,159.5 L1852.7,159.5 L1853.6,159.5 L1854.4,159.5 L1855.2,159.5 L1856.1,159.5 L1856.9,159.5 L1857.7,159.5 L1858.6,159.5 L1859.4,159.5 L1860.2,159.5 L1861.1,159.5 L1861.9,159.5 L1862.8,159.5 L1863.6,159.5 L1864.4,159.5 L1865.3,159.5 L1866.1,159.5 L1866.9,159.5 L1867.8,159.5 L1868.6,159.5 L1869.4,159.5 L1870.3,159.5 L1871.1,159.5 L1871.9,159.5 L1872.8,159.5 L1873.6,159.5 L1874.5,159.5 L1875.3,159.5 L1876.1,159.5 L1877.0,159.5 L1877.8,159.5 L1878.6,159.5 L1879.5,159.5 L1880.3,159.5 L1881.1,159.5 L1882.0,159.5 L1882.8,159.5 L1883.7,159.5 L1884.5,159.5 L1885.3,159.5 L1886.2,159.5 L1887.0,159.5 L1887.8,159.5 L1888.7,159.5 L1889.5,159.5 L1890.3,159.5 L1891.2,159.5 L1892.0,159.5 L1892.8,159.5 L1893.7,159.5 L1894.5,159.5 L1895.4,159.5 L1896.2,159.5 L1897.0,159.5 L1897.9,159.5 L1898.7,159.5 L1899.5,159.5 L1900.4,159.5 L1901.2,159.5 L1902.0,159.5 L1902.9,159.5 L1903.7,159.5 L1904.5,159.5 L1905.4,159.5 L1906.2,159.5 L1907.1,159.5 L1907.9,159.5 L1908.7,159.5 L1909.6,159.5 L1910.4,159.5 L1911.2,159.5 L1912.1,159.5 L1912.9,159.5 L1913.7,159.5 L1914.6,159.5 L1915.4,159.5 L1916.3,159.5 L1917.1,159.5 L1917.9,159.5 L1918.8,159.5 L1919.6,159.5 L1920.4,159.5 L1921.3,159.5 L1922.1,159.5 L1922.9,159.5 L1923.8,159.5 L1924.6,159.5 L1925.4,159.5 L1926.3,159.5 L1927.1,159.5 L1928.0,159.5 L1928.8,159.5 L1929.6,159.5 L1930.5,159.5 L1931.3,159.5 L1932.1,159.5 L1933.0,159.5 L1933.8,159.5 L1934.6,159.5 L1935.5,159.5 L1936.3,159.5 L1937.1,159.5 L1938.0,159.5 L1938.8,159.5 L1939.7,159.5 L1940.5,159.5 L1941.3,159.5 L1942.2,159.5 L1943.0,159.5 L1943.8,159.5 L1944.7,159.5 L1945.5,159.5 L1946.3,159.5 L1947.2,159.5 L1948.0,159.5 L1948.9,159.5 L1949.7,159.5 L1950.5,159.5 L1951.4,159.5 L1952.2,159.5 L1953.0,159.5 L1953.9,159.5 L1954.7,159.5 L1955.5,159.5 L1956.4,159.5 L1957.2,159.5 L1958.0,159.5 L1958.9,159.5 L1959.7,159.5 L1960.6,159.5 L1961.4,159.5 L1962.2,159.5 L1963.1,159.5 L1963.9,159.5 L1964.7,159.5 L1965.6,159.5 L1966.4,159.5 L1967.2,159.5 L1968.1,159.5 L1968.9,159.5 L1969.7,159.5 L1970.6,159.5 L1971.4,159.5 L1972.3,159.5 L1973.1,159.5 L1973.9,159.5 L1974.8,159.5 L1975.6,159.5 L1976.4,159.5 L1977.3,159.5 L1978.1,159.5 L1978.9,159.5 L1979.8,159.5 L1980.6,159.5 L1981.5,159.5 L1982.3,159.5 L1983.1,159.5 L1984.0,159.5 L1984.8,159.5 L1985.6,159.5 L1986.5,159.5 L1987.3,159.5 L1987.8,159.5" stroke="#00FFFF" stroke-width="6.2"/>
<path d="M532.0,159.5 L532.8,159.5 L533.7,159.5 L534.5,159.5 L535.3,159.5 L536.2,159.5 L537.0,159.5 L537.9,159.5 L538.7,159.5 L539.5,159.5 L540.4,159.5 L541.2,159.5 L542.0,159.5 L542.9,159.5 L543.7,159.5 L544.5,159.5 L545.4,159.5 L546.2,159.5 L547.0,159.5 L547.9,159.5 L548.7,159.5 L549.6,159.5 L550.4,159.5 L551.2,159.5 L552.1,159.5 L552.9,159.5 L553.7,159.5 L554.6,159.5 L555.4,159.5 L556.2,159.5 L557.1,159.5 L557.9,159.5 L558.7,159.5 L559.6,159.5 L560.4,159.5 L561.3,159.5 L562.1,159.5 L562.9,159.5 L563.8,159.5 L564.6,159.5 L565.4,159.5 L566.3,159.5 L567.1,159.5 L567.9,159.5 L568.8,159.5 L569.6,159.5 L570.5,159.5 L571.3,159.5 L572.1,159.5 L573.0,159.5 L573.8,159.5 L574.6,159.5 L575.5,159.5 L576.3,159.5 L577.1,159.5 L578.0,159.5 L578.8,159.5 L579.6,159.5 L580.5,159.5 L581.3,159.5 L582.2,159.5 L583.0,159.5 L583.8,159.5 L584.7,159.5 L585.5,159.5 L586.3,159.5 L587.2,159.5 L588.0,159.5 L588.8,159.5 L589.7,159.5 L590.5,159.5 L591.3,159.5 L592.2,159.5 L593.0,159.5 L593.9,159.5 L594.7,159.5 L595.5,159.5 L596.4,159.5 L597.2,159.5 L598.0,159.5 L598.9,159.5 L599.7,159.5 L600.5,159.5 L601.4,159.5 L602.2,159.5 L603.1,159.5 L603.9,159.5 L604.7,159.5 L605.6,159.5 L606.4,159.5 L607.2,159.5 L608.1,159.5 L608.9,159.5 L609.7,159.5 L610.6,159.5 L611.4,159.5 L612.2,159.5 L613.1,159.5 L613.9,159.5 L614.8,159.5 L615.6,159.5 L616.4,159.5 L617.3,159.5 L618.1,159.5 L618.9,159.5 L619.8,159.5 L620.6,159.5 L621.4,159.5 L622.3,159.5 L623.1,159.5 L623.9,159.5 L624.8,159.5 L625.6,159.5 L626.5,159.5 L627.3,159.5 L628.1,159.5 L629.0,159.5 L629.8,159.5 L630.6,159.5 L631.5,159.5 L632.3,159.5 L633.1,159.5 L634.0,159.5 L634.8,159.5 L635.7,159.5 L636.5,159.5 L637.3,159.5 L638.2,159.5 L639.0,159.5 L639.8,159.5 L640.7,159.5 L641.5,159.5 L642.3,159.5 L643.2,159.5 L644.0,159.5 L644.8,159.5 L645.7,159.5 L646.5,159.5 L647.4,159.5 L648.2,159.5 L649.0,159.5 L649.9,159.5 L650.7,159.5 L651.5,159.5 L652.4,159.5 L653.2,159.5 L654.0,159.5 L654.9,159.5 L655.7,159.5 L656.5,159.5 L657.4,159.5 L658.2,159.5 L659.1,159.5 L659.9,159.5 L660.7,159.5 L661.6,159.5 L662.4,159.5 L663.2,159.5 L664.1,159.5 L664.9,159.5 L665.7,159.5 L666.6,159.5 L667.4,159.5 L668.3,159.5 L669.1,159.5 L669.9,159.5 L670.8,159.5 L671.6,159.5 L672.4,159.5 L673.3,159.5 L674.1,159.5 L674.9,159.5 L675.8,159.5 L676.6,159.5 L677.4,159.5 L678.3,159.5 L679.1,159.5 L680.0,159.5 L680.8,159.5 L681.6,159.5 L682.5,159.5 L683.3,159.5 L684.1,159.5 L685.0,159.5 L685.8,159.5 L686.6,159.5 L687.5,159.5 L688.3,159.5 L689.1,159.5 L690.0,159.5 L690.8,159.5 L691.7,159.5 L692.5,159.5 L693.3,159.5 L694.2,159.5 L695.0,159.5 L695.8,159.5 L696.7,159.5 L697.5,159.5 L698.3,159.5 L699.2,159.5 L700.0,159.5 L700.9,159.5 L701.7,159.5 L702.5,159.5 L703.4,159.5 L704.2,159.5 L705.0,159.5 L705.9,159.5 L706.7,159.5 L707.5,159.5 L708.4,159.5 L709.2,159.5 L710.0,159.5 L710.9,159.5 L711.7,159.5 L712.6,159.5 L713.4,159.5 L714.2,159.5 L715.1,159.5 L715.9,159.5 L716.7,159.5 L717.6,159.5 L718.4,159.5 L719.2,159.5 L720.1,159.5 L720.9,159.5 L721.7,159.5 L722.6,159.5 L723.4,159.5 L724.3,159.5 L725.1,159.5 L725.9,159.5 L726.8,159.5 L727.6,159.5 L728.4,159.5 L729.3,159.5 L730.1,159.5 L730.9,159.5 L731.8,159.5 L732.6,159.5 L733.5,159.5 L734.3,159.5 L735.1,159.5 L736.0,159.5 L736.8,159.5 L737.6,159.5 L738.5,159.5 L739.3,159.5 L740.1,159.5 L741.0,159.5 L741.8,159.5 L742.6,159.5 L743.5,159.5 L744.3,159.5 L745.2,159.5 L746.0,159.5 L746.8,159.5 L747.7,159.5 L748.5,159.5 L749.3,159.5 L750.2,159.5 L751.0,159.5 L751.8,159.5 L752.7,159.5 L753.5,159.5 L754.3,159.5 L755.2,159.5 L756.0,159.5 L756.9,159.5 L757.7,159.5 L758.5,159.5 L759.4,159.5 L760.2,159.5 L761.0,159.5 L761.9,159.5 L762.7,159.5 L763.5,159.5 L764.4,159.5 L765.2,159.5 L766.1,159.5 L766.9,159.5 L767.7,159.5 L768.6,159.5 L769.4,159.5 L770.2,159.5 L771.1,159.5 L771.9,159.5 L772.7,159.5 L773.6,159.5 L774.4,159.5 L775.2,159.5 L776.1,159.5 L776.9,159.5 L777.8,159.5 L778.6,159.5 L779.4,159.5 L780.3,159.5 L781.1,159.5 L781.9,159.5 L782.8,159.5 L783.6,159.5 L784.4,159.5 L785.3,159.5 L786.1,159.5 L786.9,159.5 L787.8,159.5 L788.6,159.5 L789.5,159.5 L790.3,159.5 L791.1,159.5 L792.0,159.5 L792.8,159.5 L793.6,159.5 L794.5,159.5 L795.3,159.5 L796.1,159.5 L797.0,159.5 L797.8,159.5 L798.7,159.5 L799.5,159.5 L800.3,159.5 L801.2,159.5 L802.0,159.5 L802.8,159.5 L803.7,159.5 L804.5,159.5 L805.3,159.5 L806.2,159.5 L807.0,159.5 L807.8,159.5 L808.7,159.5 L809.5,159.5 L810.4,159.5 L811.2,159.5 L812.0,159.5 L812.9,159.5 L813.7,159.5 L814.5,159.5 L815.4,159.5 L816.2,159.5 L817.0,159.5 L817.9,159.5 L818.7,159.5 L819.5,159.5 L820.4,159.5 L821.2,159.5 L822.1,159.5 L822.9,159.5 L823.7,159.5 L824.6,159.5 L825.4,159.5 L826.2,159.5 L827.1,159.5 L827.9,159.5 L828.7,159.5 L829.6,159.5 L830.4,159.5 L831.3,159.5 L832.1,159.5 L832.9,159.5 L833.8,159.5 L834.6,159.5 L835.4,159.5 L836.3,159.5 L837.1,159.5 L837.9,159.5 L838.8,159.5 L839.6,159.5 L840.4,159.5 L841.3,159.5 L842.1,159.5 L843.0,159.5 L843.8,159.5 L844.6,159.5 L845.5,159.5 L846.3,159.5 L847.1,159.5 L848.0,159.5 L848.8,159.5 L849.6,159.5 L850.5,159.5 L851.3,159.5 L852.1,159.5 L853.0,159.5 L853.8,159.5 L854.7,159.5 L855.5,159.5 L856.3,159.5 L857.2,159.5 L858.0,159.5 L858.8,159.5 L859.7,159.5 L860.5,159.5 L861.3,159.5 L862.2,159.5 L863.0,159.5 L863.9,159.5 L864.7,159.5 L865.5,159.5 L866.4,159.5 L867.2,159.5 L868.0,159.5 L868.9,159.5 L869.7,159.5 L870.5,159.5 L871.4,159.5 L872.2,159.5 L873.0,159.5 L873.9,159.5 L874.7,159.5 L875.6,159.5 L876.4,159.5 L877.2,159.5 L878.1,159.5 L878.9,159.5 L879.7,159.5 L880.6,159.5 L881.4,159.5 L882.2,159.5 L883.1,159.5 L883.9,159.5 L884.7,159.5 L885.6,159.5 L886.4,159.5 L887.3,159.5 L888.1,159.5 L888.9,159.5 L889.8,159.5 L890.6,159.5 L891.4,159.5 L892.3,159.5 L893.1,159.5 L893.9,159.5 L894.8,159.5 L895.6,159.5 L896.5,159.5 L897.3,159.5 L898.1,159.5 L899.0,159.5 L899.8,159.5 L900.6,159.5 L901.5,159.5 L902.3,159.5 L903.1,159.5 L904.0,159.5 L904.8,159.5 L905.6,159.5 L906.5,159.5 L907.3,159.5 L908.2,159.5 L909.0,159.5 L909.8,159.5 L910.7,159.5 L911.5,159.5 L912.3,159.5 L913.2,159.5 L914.0,159.5 L914.8,159.5 L915.7,159.5 L916.5,159.5 L917.3,159.5 L918.2,159.5 L919.0,159.5 L919.9,159.5 L920.7,159.5 L921.5,159.5 L922.4,159.5 L923.2,159.5 L924.0,159.5 L924.9,159.5 L925.7,159.5 L926.5,159.5 L927.4,159.5 L928.2,159.5 L929.1,159.5 L929.9,159.5 L930.7,159.5 L931.6,159.5 L932.4,159.5 L933.2,159.5 L934.1,159.5 L934.9,159.5 L935.7,159.5 L936.6,159.5 L937.4,159.5 L938.2,159.5 L939.1,159.5 L939.9,159.5 L940.8,159.5 L941.6,159.5 L942.4,159.5 L943.3,159.5 L944.1,159.5 L944.9,159.5 L945.8,159.5 L946.6,159.5 L947.4,159.5 L948.3,159.5 L949.1,159.5 L949.9,159.5 L950.8,159.5 L951.6,159.5 L952.5,159.5 L953.3,159.5 L954.1,159.5 L955.0,159.5 L955.8,159.5 L956.6,159.5 L957.5,159.5 L958.3,159.5 L959.1,159.5 L960.0,159.5 L960.8,159.5 L961.7,159.5 L962.5,159.5 L963.3,159.5 L964.2,159.5 L965.0,159.5 L965.8,159.5 L966.7,159.5 L967.5,159.5 L968.3,159.5 L969.2,159.5 L970.0,159.5 L970.8,159.5 L971.7,159.5 L972.5,159.5 L973.4,159.5 L974.2,159.5 L975.0,159.5 L975.9,159.5 L976.7,159.5 L977.5,159.5 L978.4,159.5 L979.2,159.5 L980.0,159.5 L980.9,159.5 L981.7,159.5 L982.6,159.5 L983.4,159.5 L984.2,159.5 L985.1,159.5 L985.9,159.5 L986.7,159.5 L987.6,159.5 L988.4,159.5 L989.2,159.5 L990.1,159.5 L990.9,159.5 L991.7,159.5 L992.6,159.5 L993.4,159.5 L994.3,159.5 L995.1,159.5 L995.9,159.6 L996.8,159.6 L997.6,159.6 L998.4,159.6 L999.3,159.6 L1000.1,159.6 L1000.9,159.7 L1001.8,159.7 L1002.6,159.7 L1003.4,159.7 L1004.3,159.8 L1005.1,159.8 L1006.0,159.9 L1006.8,160.0 L1007.6,160.0 L1008.5,160.1 L1009.3,160.2 L1010.1,160.3 L1011.0,160.5 L1011.8,160.6 L1012.6,160.8 L1013.5,161.0 L1014.3,161.2 L1015.2,161.4 L1016.0,161.7 L1016.8,162.0 L1017.7,162.3 L1018.5,162.7 L1019.3,163.2 L1020.2,163.7 L1021.0,164.2 L1021.8,164.9 L1022.7,165.6 L1023.5,166.3 L1024.3,167.2 L1025.2,168.1 L1026.0,169.2 L1026.9,170.4 L1027.7,171.7 L1028.5,173.1 L1029.4,174.7 L1030.2,176.4 L1031.0,178.3 L1031.9,180.4 L1032.7,182.7 L1033.5,185.2 L1034.4,187.9 L1035.2,190.9 L1036.0,194.1 L1036.9,197.6 L1037.7,201.4 L1038.6,205.4 L1039.4,209.8 L1040.2,214.6 L1041.1,219.6 L1041.9,225.1 L1042.7,230.9 L1043.6,237.1 L1044.4,243.8 L1045.2,250.9 L1046.1,258.4 L1046.9,266.4 L1047.8,274.8 L1048.6,283.7 L1049.4,293.1 L1050.3,303.0 L1051.1,313.4 L1051.9,324.3 L1052.8,335.6 L1053.6,347.5 L1054.4,359.9 L1055.3,372.8 L1056.1,386.1 L1056.9,399.9 L1057.8,414.2 L1058.6,428.8 L1059.5,443.9 L1060.3,459.4 L1061.1,475.2 L1062.0,491.4 L1062.8,507.9 L1063.6,524.6 L1064.5,541.5 L1065.3,558.6 L1066.1,575.8 L1067.0,593.1 L1067.8,610.5 L1068.6,627.8 L1069.5,645.0 L1070.3,662.1 L1071.2,679.0 L1072.0,695.6 L1072.8,711.9 L1073.7,727.9 L1074.5,743.4 L1075.3,758.4 L1076.2,772.8 L1077.0,786.7 L1077.8,799.8 L1078.7,812.3 L1079.5,823.9 L1080.4,834.8 L1081.2,844.7 L1082.0,853.8 L1082.9,861.9 L1083.7,868.9 L1084.5,875.0 L1085.4,880.0 L1086.2,883.9 L1087.0,886.8 L1087.9,888.5 L1088.7,889.1 L1089.5,888.6 L1090.4,887.0 L1091.2,884.4 L1092.1,880.7 L1092.9,875.9 L1093.7,870.1 L1094.6,863.3 L1095.4,855.5 L1096.2,846.8 L1097.1,837.2 L1097.9,826.7 L1098.7,815.4 L1099.6,803.3 L1100.4,790.6 L1101.2,777.1 L1102.1,763.0 L1102.9,748.4 L1103.8,733.3 L1104.6,717.7 L1105.4,701.8 L1106.3,685.5 L1107.1,668.9 L1107.9,652.2 L1108.8,635.2 L1109.6,618.2 L1110.4,601.1 L1111.3,584.1 L1112.1,567.0 L1113.0,550.1 L1113.8,533.3 L1114.6,516.7 L1115.5,500.4 L1116.3,484.3 L1117.1,468.5 L1118.0,453.0 L1118.8,437.9 L1119.6,423.2 L1120.5,408.9 L1121.3,395.0 L1122.1,381.5 L1123.0,368.5 L1123.8,356.0 L1124.7,344.0 L1125.5,332.4 L1126.3,321.3 L1127.2,310.7 L1128.0,300.6 L1128.8,291.0 L1129.7,281.8 L1130.5,273.1 L1131.3,264.9 L1132.2,257.1 L1133.0,249.8 L1133.8,242.8 L1134.7,236.3 L1135.5,230.3 L1136.4,224.5 L1137.2,219.2 L1138.0,214.2 L1138.9,209.6 L1139.7,205.3 L1140.5,201.3 L1141.4,197.5 L1142.2,194.1 L1143.0,190.9 L1143.9,188.0 L1144.7,185.3 L1145.6,182.9 L1146.4,180.6 L1147.2,178.5 L1148.1,176.6 L1148.9,174.9 L1149.7,173.3 L1150.6,171.9 L1151.4,170.6 L1152.2,169.4 L1153.1,168.3 L1153.9,167.4 L1154.7,166.5 L1155.6,165.7 L1156.4,165.0 L1157.3,164.4 L1158.1,163.8 L1158.9,163.3 L1159.8,162.9 L1160.6,162.5 L1161.4,162.1 L1162.3,161.8 L1163.1,161.5 L1163.9,161.3 L1164.8,161.0 L1165.6,160.8 L1166.4,160.7 L1167.3,160.5 L1168.1,160.4 L1169.0,160.3 L1169.8,160.2 L1170.6,160.1 L1171.5,160.0 L1172.3,159.9 L1173.1,159.9 L1174.0,159.8 L1174.8,159.8 L1175.6,159.7 L1176.5,159.7 L1177.3,159.7 L1178.2,159.6 L1179.0,159.6 L1179.8,159.6 L1180.7,159.6 L1181.5,159.6 L1182.3,159.6 L1183.2,159.6 L1184.0,159.5 L1184.8,159.5 L1185.7,159.5 L1186.5,159.5 L1187.3,159.5 L1188.2,159.5 L1189.0,159.5 L1189.9,159.5 L1190.7,159.5 L1191.5,159.5 L1192.4,159.5 L1193.2,159.5 L1194.0,159.5 L1194.9,159.5 L1195.7,159.5 L1196.5,159.5 L1197.4,159.5 L1198.2,159.5 L1199.0,159.5 L1199.9,159.5 L1200.7,159.5 L1201.6,159.5 L1202.4,159.5 L1203.2,159.5 L1204.1,159.5 L1204.9,159.5 L1205.7,159.5 L1206.6,159.5 L1207.4,159.5 L1208.2,159.5 L1209.1,159.5 L1209.9,159.5 L1210.8,159.5 L1211.6,159.5 L1212.4,159.5 L1213.3,159.5 L1214.1,159.5 L1214.9,159.5 L1215.8,159.5 L1216.6,159.5 L1217.4,159.5 L1218.3,159.5 L1219.1,159.5 L1219.9,159.5 L1220.8,159.5 L1221.6,159.5 L1222.5,159.5 L1223.3,159.5 L1224.1,159.5 L1225.0,159.5 L1225.8,159.5 L1226.6,159.5 L1227.5,159.5 L1228.3,159.5 L1229.1,159.5 L1230.0,159.5 L1230.8,159.5 L1231.6,159.5 L1232.5,159.5 L1233.3,159.5 L1234.2,159.5 L1235.0,159.5 L1235.8,159.5 L1236.7,159.5 L1237.5,159.5 L1238.3,159.5 L1239.2,159.5 L1240.0,159.5 L1240.8,159.5 L1241.7,159.5 L1242.5,159.5 L1243.4,159.5 L1244.2,159.5 L1245.0,159.5 L1245.9,159.5 L1246.7,159.5 L1247.5,159.5 L1248.4,159.5 L1249.2,159.5 L1250.0,159.5 L1250.9,159.5 L1251.7,159.5 L1252.5,159.5 L1253.4,159.5 L1254.2,159.5 L1255.1,159.5 L1255.9,159.5 L1256.7,159.5 L1257.6,159.5 L1258.4,159.5 L1259.2,159.5 L1260.1,159.5 L1260.9,159.5 L1261.7,159.5 L1262.6,159.5 L1263.4,159.5 L1264.2,159.5 L1265.1,159.5 L1265.9,159.5 L1266.8,159.5 L1267.6,159.5 L1268.4,159.5 L1269.3,159.5 L1270.1,159.5 L1270.9,159.5 L1271.8,159.5 L1272.6,159.5 L1273.4,159.5 L1274.3,159.5 L1275.1,159.5 L1276.0,159.5 L1276.8,159.5 L1277.6,159.5 L1278.5,159.5 L1279.3,159.5 L1280.1,159.5 L1281.0,159.5 L1281.8,159.5 L1282.6,159.5 L1283.5,159.5 L1284.3,159.5 L1285.1,159.5 L1286.0,159.5 L1286.8,159.5 L1287.7,159.5 L1288.5,159.5 L1289.3,159.5 L1290.2,159.5 L1291.0,159.5 L1291.8,159.5 L1292.7,159.5 L1293.5,159.5 L1294.3,159.5 L1295.2,159.5 L1296.0,159.5 L1296.8,159.5 L1297.7,159.5 L1298.5,159.5 L1299.4,159.5 L1300.2,159.5 L1301.0,159.5 L1301.9,159.5 L1302.7,159.5 L1303.5,159.5 L1304.4,159.5 L1305.2,159.5 L1306.0,159.5 L1306.9,159.5 L1307.7,159.5 L1308.6,159.5 L1309.4,159.5 L1310.2,159.5 L1311.1,159.5 L1311.9,159.5 L1312.7,159.5 L1313.6,159.5 L1314.4,159.5 L1315.2,159.5 L1316.1,159.5 L1316.9,159.5 L1317.7,159.5 L1318.6,159.5 L1319.4,159.5 L1320.3,159.5 L1321.1,159.5 L1321.9,159.5 L1322.8,159.5 L1323.6,159.5 L1324.4,159.5 L1325.3,159.5 L1326.1,159.5 L1326.9,159.5 L1327.8,159.5 L1328.6,159.5 L1329.4,159.5 L1330.3,159.5 L1331.1,159.5 L1332.0,159.5 L1332.8,159.5 L1333.6,159.5 L1334.5,159.5 L1335.3,159.5 L1336.1,159.5 L1337.0,159.5 L1337.8,159.5 L1338.6,159.5 L1339.5,159.5 L1340.3,159.5 L1341.2,159.5 L1342.0,159.5 L1342.8,159.5 L1343.7,159.5 L1344.5,159.5 L1345.3,159.5 L1346.2,159.5 L1347.0,159.5 L1347.8,159.5 L1348.7,159.5 L1349.5,159.5 L1350.3,159.5 L1351.2,159.5 L1352.0,159.5 L1352.9,159.5 L1353.7,159.5 L1354.5,159.5 L1355.4,159.5 L1356.2,159.5 L1357.0,159.5 L1357.9,159.5 L1358.7,159.5 L1359.5,159.5 L1360.4,159.5 L1361.2,159.5 L1362.0,159.5 L1362.9,159.5 L1363.7,159.5 L1364.6,159.5 L1365.4,159.5 L1366.2,159.5 L1367.1,159.5 L1367.9,159.5 L1368.7,159.5 L1369.6,159.5 L1370.4,159.5 L1371.2,159.5 L1372.1,159.5 L1372.9,159.5 L1373.8,159.5 L1374.6,159.5 L1375.4,159.5 L1376.3,159.5 L1377.1,159.5 L1377.9,159.5 L1378.8,159.5 L1379.6,159.5 L1380.4,159.5 L1381.3,159.5 L1382.1,159.5 L1382.9,159.5 L1383.8,159.5 L1384.6,159.5 L1385.5,159.5 L1386.3,159.5 L1387.1,159.5 L1388.0,159.5 L1388.8,159.5 L1389.6,159.5 L1390.5,159.5 L1391.3,159.5 L1392.1,159.5 L1393.0,159.5 L1393.8,159.5 L1394.6,159.5 L1395.5,159.5 L1396.3,159.5 L1397.2,159.5 L1398.0,159.5 L1398.8,159.5 L1399.7,159.5 L1400.5,159.5 L1401.3,159.5 L1402.2,159.5 L1403.0,159.5 L1403.8,159.5 L1404.7,159.5 L1405.5,159.5 L1406.4,159.5 L1407.2,159.5 L1408.0,159.5 L1408.9,159.5 L1409.7,159.5 L1410.5,159.5 L1411.4,159.5 L1412.2,159.5 L1413.0,159.5 L1413.9,159.5 L1414.7,159.5 L1415.5,159.5 L1416.4,159.5 L1417.2,159.5 L1418.1,159.5 L1418.9,159.5 L1419.7,159.5 L1420.6,159.5 L1421.4,159.5 L1422.2,159.5 L1423.1,159.5 L1423.9,159.5 L1424.7,159.5 L1425.6,159.5 L1426.4,159.5 L1427.2,159.5 L1428.1,159.5 L1428.9,159.5 L1429.8,159.5 L1430.6,159.5 L1431.4,159.5 L1432.3,159.5 L1433.1,159.5 L1433.9,159.5 L1434.8,159.5 L1435.6,159.5 L1436.4,159.5 L1437.3,159.5 L1438.1,159.5 L1439.0,159.5 L1439.8,159.5 L1440.6,159.5 L1441.5,159.5 L1442.3,159.5 L1443.1,159.5 L1444.0,159.5 L1444.8,159.5 L1445.6,159.5 L1446.5,159.5 L1447.3,159.5 L1448.1,159.5 L1449.0,159.5 L1449.8,159.5 L1450.7,159.5 L1451.5,159.5 L1452.3,159.5 L1453.2,159.5 L1454.0,159.5 L1454.8,159.5 L1455.7,159.5 L1456.5,159.5 L1457.3,159.5 L1458.2,159.5 L1459.0,159.5 L1459.8,159.5 L1460.7,159.5 L1461.5,159.5 L1462.4,159.5 L1463.2,159.5 L1464.0,159.5 L1464.9,159.5 L1465.7,159.5 L1466.5,159.5 L1467.4,159.5 L1468.2,159.5 L1469.0,159.5 L1469.9,159.5 L1470.7,159.5 L1471.6,159.5 L1472.4,159.5 L1473.2,159.5 L1474.1,159.5 L1474.9,159.5 L1475.7,159.5 L1476.6,159.5 L1477.4,159.5 L1478.2,159.5 L1479.1,159.5 L1479.9,159.5 L1480.7,159.5 L1481.6,159.5 L1482.4,159.5 L1483.3,159.5 L1484.1,159.5 L1484.9,159.5 L1485.8,159.5 L1486.6,159.5 L1487.4,159.5 L1488.3,159.5 L1489.1,159.5 L1489.9,159.5 L1490.8,159.5 L1491.6,159.5 L1492.4,159.5 L1493.3,159.5 L1494.1,159.5 L1495.0,159.5 L1495.8,159.5 L1496.6,159.5 L1497.5,159.5 L1498.3,159.5 L1499.1,159.5 L1500.0,159.5 L1500.8,159.5 L1501.6,159.5 L1502.5,159.5 L1503.3,159.5 L1504.2,159.5 L1505.0,159.5 L1505.8,159.5 L1506.7,159.5 L1507.5,159.5 L1508.3,159.5 L1509.2,159.5 L1510.0,159.5 L1510.8,159.5 L1511.7,159.5 L1512.5,159.5 L1513.3,159.5 L1514.2,159.5 L1515.0,159.5 L1515.9,159.5 L1516.7,159.5 L1517.5,159.5 L1518.4,159.5 L1519.2,159.5 L1520.0,159.5 L1520.9,159.5 L1521.7,159.5 L1522.5,159.5 L1523.4,159.5 L1524.2,159.5 L1525.0,159.5 L1525.9,159.5 L1526.7,159.5 L1527.6,159.5 L1528.4,159.5 L1529.2,159.5 L1530.1,159.5 L1530.9,159.5 L1531.7,159.5 L1532.6,159.5 L1533.4,159.5 L1534.2,159.5 L1535.1,159.5 L1535.9,159.5 L1536.8,159.5 L1537.6,159.5 L1538.4,159.5 L1539.3,159.5 L1540.1,159.5 L1540.9,159.5 L1541.8,159.5 L1542.6,159.5 L1543.4,159.5 L1544.3,159.5 L1545.1,159.5 L1545.9,159.5 L1546.8,159.5 L1547.6,159.5 L1548.5,159.5 L1549.3,159.5 L1550.1,159.5 L1551.0,159.5 L1551.8,159.5 L1552.6,159.5 L1553.5,159.5 L1554.3,159.5 L1555.1,159.5 L1556.0,159.5 L1556.8,159.5 L1557.6,159.5 L1558.5,159.5 L1559.3,159.5 L1560.2,159.5 L1561.0,159.5 L1561.8,159.5 L1562.7,159.5 L1563.5,159.5 L1564.3,159.5 L1565.2,159.5 L1566.0,159.5 L1566.8,159.5 L1567.7,159.5 L1568.5,159.5 L1569.4,159.5 L1570.2,159.5 L1571.0,159.5 L1571.9,159.5 L1572.7,159.5 L1573.5,159.5 L1574.4,159.5 L1575.2,159.5 L1576.0,159.5 L1576.9,159.5 L1577.7,159.5 L1578.5,159.5 L1579.4,159.5 L1580.2,159.5 L1581.1,159.5 L1581.9,159.5 L1582.7,159.5 L1583.6,159.5 L1584.4,159.5 L1585.2,159.5 L1586.1,159.5 L1586.9,159.5 L1587.7,159.5 L1588.6,159.5 L1589.4,159.5 L1590.2,159.5 L1591.1,159.5 L1591.9,159.5 L1592.8,159.5 L1593.6,159.5 L1594.4,159.5 L1595.3,159.5 L1596.1,159.5 L1596.9,159.5 L1597.8,159.5 L1598.6,159.5 L1599.4,159.5 L1600.3,159.5 L1601.1,159.5 L1602.0,159.5 L1602.8,159.5 L1603.6,159.5 L1604.5,159.5 L1605.3,159.5 L1606.1,159.5 L1607.0,159.5 L1607.8,159.5 L1608.6,159.5 L1609.5,159.5 L1610.3,159.5 L1611.1,159.5 L1612.0,159.5 L1612.8,159.5 L1613.7,159.5 L1614.5,159.5 L1615.3,159.5 L1616.2,159.5 L1617.0,159.5 L1617.8,159.5 L1618.7,159.5 L1619.5,159.5 L1620.3,159.5 L1621.2,159.5 L1622.0,159.5 L1622.8,159.5 L1623.7,159.5 L1624.5,159.5 L1625.4,159.5 L1626.2,159.5 L1627.0,159.5 L1627.9,159.5 L1628.7,159.5 L1629.5,159.5 L1630.4,159.5 L1631.2,159.5 L1632.0,159.5 L1632.9,159.5 L1633.7,159.5 L1634.6,159.5 L1635.4,159.5 L1636.2,159.5 L1637.1,159.5 L1637.9,159.5 L1638.7,159.5 L1639.6,159.5 L1640.4,159.5 L1641.2,159.5 L1642.1,159.5 L1642.9,159.5 L1643.7,159.5 L1644.6,159.5 L1645.4,159.5 L1646.3,159.5 L1647.1,159.5 L1647.9,159.5 L1648.8,159.5 L1649.6,159.5 L1650.4,159.5 L1651.3,159.5 L1652.1,159.5 L1652.9,159.5 L1653.8,159.5 L1654.6,159.5 L1655.4,159.5 L1656.3,159.5 L1657.1,159.5 L1658.0,159.5 L1658.8,159.5 L1659.6,159.5 L1660.5,159.5 L1661.3,159.5 L1662.1,159.5 L1663.0,159.5 L1663.8,159.5 L1664.6,159.5 L1665.5,159.5 L1666.3,159.5 L1667.2,159.5 L1668.0,159.5 L1668.8,159.5 L1669.7,159.5 L1670.5,159.5 L1671.3,159.5 L1672.2,159.5 L1673.0,159.5 L1673.8,159.5 L1674.7,159.5 L1675.5,159.5 L1676.3,159.5 L1677.2,159.5 L1678.0,159.5 L1678.9,159.5 L1679.7,159.5 L1680.5,159.5 L1681.4,159.5 L1682.2,159.5 L1683.0,159.5 L1683.9,159.5 L1684.7,159.5 L1685.5,159.5 L1686.4,159.5 L1687.2,159.5 L1688.0,159.5 L1688.9,159.5 L1689.7,159.5 L1690.6,159.5 L1691.4,159.5 L1692.2,159.5 L1693.1,159.5 L1693.9,159.5 L1694.7,159.5 L1695.6,159.5 L1696.4,159.5 L1697.2,159.5 L1698.1,159.5 L1698.9,159.5 L1699.8,159.5 L1700.6,159.5 L1701.4,159.5 L1702.3,159.5 L1703.1,159.5 L1703.9,159.5 L1704.8,159.5 L1705.6,159.5 L1706.4,159.5 L1707.3,159.5 L1708.1,159.5 L1708.9,159.5 L1709.8,159.5 L1710.6,159.5 L1711.5,159.5 L1712.3,159.5 L1713.1,159.5 L1714.0,159.5 L1714.8,159.5 L1715.6,159.5 L1716.5,159.5 L1717.3,159.5 L1718.1,159.5 L1719.0,159.5 L1719.8,159.5 L1720.6,159.5 L1721.5,159.5 L1722.3,159.5 L1723.2,159.5 L1724.0,159.5 L1724.8,159.5 L1725.7,159.5 L1726.5,159.5 L1727.3,159.5 L1728.2,159.5 L1729.0,159.5 L1729.8,159.5 L1730.7,159.5 L1731.5,159.5 L1732.4,159.5 L1733.2,159.5 L1734.0,159.5 L1734.9,159.5 L1735.7,159.5 L1736.5,159.5 L1737.4,159.5 L1738.2,159.5 L1739.0,159.5 L1739.9,159.5 L1740.7,159.5 L1741.5,159.5 L1742.4,159.5 L1743.2,159.5 L1744.1,159.5 L1744.9,159.5 L1745.7,159.5 L1746.6,159.5 L1747.4,159.5 L1748.2,159.5 L1749.1,159.5 L1749.9,159.5 L1750.7,159.5 L1751.6,159.5 L1752.4,159.5 L1753.2,159.5 L1754.1,159.5 L1754.9,159.5 L1755.8,159.5 L1756.6,159.5 L1757.4,159.5 L1758.3,159.5 L1759.1,159.5 L1759.9,159.5 L1760.8,159.5 L1761.6,159.5 L1762.4,159.5 L1763.3,159.5 L1764.1,159.5 L1765.0,159.5 L1765.8,159.5 L1766.6,159.5 L1767.5,159.5 L1768.3,159.5 L1769.1,159.5 L1770.0,159.5 L1770.8,159.5 L1771.6,159.5 L1772.5,159.5 L1773.3,159.5 L1774.1,159.5 L1775.0,159.5 L1775.8,159.5 L1776.7,159.5 L1777.5,159.5 L1778.3,159.5 L1779.2,159.5 L1780.0,159.5 L1780.8,159.5 L1781.7,159.5 L1782.5,159.5 L1783.3,159.5 L1784.2,159.5 L1785.0,159.5 L1785.9,159.5 L1786.7,159.5 L1787.5,159.5 L1788.4,159.5 L1789.2,159.5 L1790.0,159.5 L1790.9,159.5 L1791.7,159.5 L1792.5,159.5 L1793.4,159.5 L1794.2,159.5 L1795.0,159.5 L1795.9,159.5 L1796.7,159.5 L1797.6,159.5 L1798.4,159.5 L1799.2,159.5 L1800.1,159.5 L1800.9,159.5 L1801.7,159.5 L1802.6,159.5 L1803.4,159.5 L1804.2,159.5 L1805.1,159.5 L1805.9,159.5 L1806.7,159.5 L1807.6,159.5 L1808.4,159.5 L1809.3,159.5 L1810.1,159.5 L1810.9,159.5 L1811.8,159.5 L1812.6,159.5 L1813.4,159.5 L1814.3,159.5 L1815.1,159.5 L1815.9,159.5 L1816.8,159.5 L1817.6,159.5 L1818.5,159.5 L1819.3,159.5 L1820.1,159.5 L1821.0,159.5 L1821.8,159.5 L1822.6,159.5 L1823.5,159.5 L1824.3,159.5 L1825.1,159.5 L1826.0,159.5 L1826.8,159.5 L1827.6,159.5 L1828.5,159.5 L1829.3,159.5 L1830.2,159.5 L1831.0,159.5 L1831.8,159.5 L1832.7,159.5 L1833.5,159.5 L1834.3,159.5 L1835.2,159.5 L1836.0,159.5 L1836.8,159.5 L1837.7,159.5 L1838.5,159.5 L1839.3,159.5 L1840.2,159.5 L1841.0,159.5 L1841.9,159.5 L1842.7,159.5 L1843.5,159.5 L1844.4,159.5 L1845.2,159.5 L1846.0,159.5 L1846.9,159.5 L1847.7,159.5 L1848.5,159.5 L1849.4,159.5 L1850.2,159.5 L1851.1,159.5 L1851.9,159.5 L1852.7,159.5 L1853.6,159.5 L1854.4,159.5 L1855.2,159.5 L1856.1,159.5 L1856.9,159.5 L1857.7,159.5 L1858.6,159.5 L1859.4,159.5 L1860.2,159.5 L1861.1,159.5 L1861.9,159.5 L1862.8,159.5 L1863.6,159.5 L1864.4,159.5 L1865.3,159.5 L1866.1,159.5 L1866.9,159.5 L1867.8,159.5 L1868.6,159.5 L1869.4,159.5 L1870.3,159.5 L1871.1,159.5 L1871.9,159.5 L1872.8,159.5 L1873.6,159.5 L1874.5,159.5 L1875.3,159.5 L1876.1,159.5 L1877.0,159.5 L1877.8,159.5 L1878.6,159.5 L1879.5,159.5 L1880.3,159.5 L1881.1,159.5 L1882.0,159.5 L1882.8,159.5 L1883.7,159.5 L1884.5,159.5 L1885.3,159.5 L1886.2,159.5 L1887.0,159.5 L1887.8,159.5 L1888.7,159.5 L1889.5,159.5 L1890.3,159.5 L1891.2,159.5 L1892.0,159.5 L1892.8,159.5 L1893.7,159.5 L1894.5,159.5 L1895.4,159.5 L1896.2,159.5 L1897.0,159.5 L1897.9,159.5 L1898.7,159.5 L1899.5,159.5 L1900.4,159.5 L1901.2,159.5 L1902.0,159.5 L1902.9,159.5 L1903.7,159.5 L1904.5,159.5 L1905.4,159.5 L1906.2,159.5 L1907.1,159.5 L1907.9,159.5 L1908.7,159.5 L1909.6,159.5 L1910.4,159.5 L1911.2,159.5 L1912.1,159.5 L1912.9,159.5 L1913.7,159.5 L1914.6,159.5 L1915.4,159.5 L1916.3,159.5 L1917.1,159.5 L1917.9,159.5 L1918.8,159.5 L1919.6,159.5 L1920.4,159.5 L1921.3,159.5 L1922.1,159.5 L1922.9,159.5 L1923.8,159.5 L1924.6,159.5 L1925.4,159.5 L1926.3,159.5 L1927.1,159.5 L1928.0,159.5 L1928.8,159.5 L1929.6,159.5 L1930.5,159.5 L1931.3,159.5 L1932.1,159.5 L1933.0,159.5 L1933.8,159.5 L1934.6,159.5 L1935.5,159.5 L1936.3,159.5 L1937.1,159.5 L1938.0,159.5 L1938.8,159.5 L1939.7,159.5 L1940.5,159.5 L1941.3,159.5 L1942.2,159.5 L1943.0,159.5 L1943.8,159.5 L1944.7,159.5 L1945.5,159.5 L1946.3,159.5 L1947.2,159.5 L1948.0,159.5 L1948.9,159.5 L1949.7,159.5 L1950.5,159.5 L1951.4,159.5 L1952.2,159.5 L1953.0,159.5 L1953.9,159.5 L1954.7,159.5 L1955.5,159.5 L1956.4,159.5 L1957.2,159.5 L1958.0,159.5 L1958.9,159.5 L1959.7,159.5 L1960.6,159.5 L1961.4,159.5 L1962.2,159.5 L1963.1,159.5 L1963.9,159.5 L1964.7,159.5 L1965.6,159.5 L1966.4,159.5 L1967.2,159.5 L1968.1,159.5 L1968.9,159.5 L1969.7,159.5 L1970.6,159.5 L1971.4,159.5 L1972.3,159.5 L1973.1,159.5 L1973.9,159.5 L1974.8,159.5 L1975.6,159.5 L1976.4,159.5 L1977.3,159.5 L1978.1,159.5 L1978.9,159.5 L1979.8,159.5 L1980.6,159.5 L1981.5,159.5 L1982.3,159.5 L1983.1,159.5 L1984.0,159.5 L1984.8,159.5 L1985.6,159.5 L1986.5,159.5 L1987.3,159.5 L1987.8,159.5" stroke="#00FF00" stroke-width="6.4"/>
<path d="M532.0,159.5 L533.7,159.5 L535.3,159.5 L537.0,159.5 L538.7,159.5 L540.4,159.5 L542.0,159.5 L543.7,159.5 L545.4,159.5 L547.0,159.5 L548.7,159.5 L550.4,159.5 L552.1,159.5 L553.7,159.5 L555.4,159.5 L557.1,159.5 L558.7,159.5 L560.4,159.5 L562.1,159.5 L563.8,159.5 L565.4,159.5 L567.1,159.5 L568.8,159.5 L570.5,159.5 L572.1,159.5 L573.8,159.6 L575.5,159.6 L577.1,159.6 L578.8,159.6 L580.5,159.6 L582.2,159.6 L583.8,159.6 L585.5,159.6 L587.2,159.6 L588.8,159.6 L590.5,159.6 L592.2,159.6 L593.9,159.6 L595.5,159.6 L597.2,159.6 L598.9,159.6 L600.5,159.6 L602.2,159.6 L603.9,159.6 L605.6,159.6 L607.2,159.6 L608.9,159.6 L610.6,159.6 L612.2,159.6 L613.9,159.6 L615.6,159.6 L617.3,159.7 L618.9,159.7 L620.6,159.7 L622.3,159.7 L623.9,159.7 L625.6,159.7 L627.3,159.7 L629.0,159.7 L630.6,159.7 L632.3,159.7 L634.0,159.7 L635.7,159.7 L637.3,159.7 L639.0,159.8 L640.7,159.8 L642.3,159.8 L644.0,159.8 L645.7,159.8 L647.4,159.8 L649.0,159.8 L650.7,159.8 L652.4,159.8 L654.0,159.9 L655.7,159.9 L657.4,159.9 L659.1,159.9 L660.7,159.9 L662.4,159.9 L664.1,159.9 L665.7,160.0 L667.4,160.0 L669.1,160.0 L670.8,160.0 L672.4,160.0 L674.1,160.1 L675.8,160.1 L677.4,160.1 L679.1,160.1 L680.8,160.1 L682.5,160.2 L684.1,160.2 L685.8,160.2 L687.5,160.2 L689.1,160.3 L690.8,160.3 L692.5,160.3 L694.2,160.3 L695.8,160.4 L697.5,160.4 L699.2,160.4 L700.9,160.5 L702.5,160.5 L704.2,160.5 L705.9,160.6 L707.5,160.6 L709.2,160.6 L710.9,160.7 L712.6,160.7 L714.2,160.8 L715.9,160.8 L717.6,160.8 L719.2,160.9 L720.9,160.9 L722.6,161.0 L724.3,161.0 L725.9,161.1 L727.6,161.1 L729.3,161.2 L730.9,161.2 L732.6,161.3 L734.3,161.4 L736.0,161.4 L737.6,161.5 L739.3,161.5 L741.0,161.6 L742.6,161.7 L744.3,161.7 L746.0,161.8 L747.7,161.9 L749.3,161.9 L751.0,162.0 L752.7,162.1 L754.3,162.2 L756.0,162.3 L757.7,162.3 L759.4,162.4 L761.0,162.5 L762.7,162.6 L764.4,162.7 L766.1,162.8 L767.7,162.9 L769.4,163.0 L771.1,163.1 L772.7,163.2 L774.4,163.3 L776.1,163.4 L777.8,163.5 L779.4,163.6 L781.1,163.7 L782.8,163.9 L784.4,164.0 L786.1,164.1 L787.8,164.2 L789.5,164.4 L791.1,164.5 L792.8,164.6 L794.5,164.8 L796.1,164.9 L797.8,165.1 L799.5,165.2 L801.2,165.3 L802.8,165.5 L804.5,165.7 L806.2,165.8 L807.8,166.0 L809.5,166.2 L811.2,166.3 L812.9,166.5 L814.5,166.7 L816.2,166.9 L817.9,167.0 L819.5,167.2 L821.2,167.4 L822.9,167.6 L824.6,167.8 L826.2,168.0 L827.9,168.2 L829.6,168.4 L831.3,168.6 L832.9,168.9 L834.6,169.1 L836.3,169.3 L837.9,169.5 L839.6,169.8 L841.3,170.0 L843.0,170.3 L844.6,170.5 L846.3,170.8 L848.0,171.0 L849.6,171.3 L851.3,171.5 L853.0,171.8 L854.7,172.1 L856.3,172.4 L858.0,172.6 L859.7,172.9 L861.3,173.2 L863.0,173.5 L864.7,173.8 L866.4,174.1 L868.0,174.4 L869.7,174.7 L871.4,175.0 L873.0,175.4 L874.7,175.7 L876.4,176.0 L878.1,176.3 L879.7,176.7 L881.4,177.0 L883.1,177.4 L884.7,177.7 L886.4,178.1 L888.1,178.4 L889.8,178.8 L891.4,179.2 L893.1,179.6 L894.8,179.9 L896.5,180.3 L898.1,180.7 L899.8,181.1 L901.5,181.5 L903.1,181.9 L904.8,182.3 L906.5,182.7 L908.2,183.1 L909.8,183.5 L911.5,184.0 L913.2,184.4 L914.8,184.8 L916.5,185.2 L918.2,185.7 L919.9,186.1 L921.5,186.6 L923.2,187.0 L924.9,187.5 L926.5,187.9 L928.2,188.4 L929.9,188.9 L931.6,189.3 L933.2,189.8 L934.9,190.3 L936.6,190.7 L938.2,191.2 L939.9,191.7 L941.6,192.2 L943.3,192.7 L944.9,193.2 L946.6,193.7 L948.3,194.2 L949.9,194.7 L951.6,195.2 L953.3,195.7 L955.0,196.2 L956.6,196.7 L958.3,197.2 L960.0,197.7 L961.7,198.3 L963.3,198.8 L965.0,199.3 L966.7,199.8 L968.3,200.3 L970.0,200.9 L971.7,201.4 L973.4,201.9 L975.0,202.4 L976.7,203.0 L978.4,203.5 L980.0,204.0 L981.7,204.6 L983.4,205.1 L985.1,205.6 L986.7,206.1 L988.4,206.7 L990.1,207.2 L991.7,207.7 L993.4,208.3 L995.1,208.8 L996.8,209.3 L998.4,209.9 L1000.1,210.4 L1001.8,210.9 L1003.4,211.4 L1005.1,211.9 L1006.8,212.5 L1008.5,213.0 L1010.1,213.5 L1011.8,214.0 L1013.5,214.5 L1015.2,215.0 L1016.8,215.5 L1018.5,216.0 L1020.2,216.5 L1021.8,217.0 L1023.5,217.5 L1025.2,218.0 L1026.9,218.5 L1028.5,219.0 L1030.2,219.5 L1031.9,219.9 L1033.5,220.4 L1035.2,220.9 L1036.9,221.3 L1038.6,221.8 L1040.2,222.2 L1041.9,222.7 L1043.6,223.1 L1045.2,223.6 L1046.9,224.0 L1048.6,224.4 L1050.3,224.8 L1051.9,225.2 L1053.6,225.7 L1055.3,226.1 L1056.9,226.4 L1058.6,226.8 L1060.3,227.2 L1062.0,227.6 L1063.6,228.0 L1065.3,228.3 L1067.0,228.7 L1068.6,229.0 L1070.3,229.3 L1072.0,229.7 L1073.7,230.0 L1075.3,230.3 L1077.0,230.6 L1078.7,230.9 L1080.4,231.2 L1082.0,231.5 L1083.7,231.8 L1085.4,232.0 L1087.0,232.3 L1088.7,232.5 L1090.4,232.8 L1092.1,233.0 L1093.7,233.2 L1095.4,233.4 L1097.1,233.6 L1098.7,233.8 L1100.4,234.0 L1102.1,234.2 L1103.8,234.3 L1105.4,234.5 L1107.1,234.6 L1108.8,234.8 L1110.4,234.9 L1112.1,235.0 L1113.8,235.1 L1115.5,235.2 L1117.1,235.3 L1118.8,235.4 L1120.5,235.4 L1122.1,235.5 L1123.8,235.6 L1125.5,235.6 L1127.2,235.6 L1128.8,235.6 L1130.5,235.6 L1132.2,235.6 L1133.8,235.6 L1135.5,235.6 L1137.2,235.6 L1138.9,235.5 L1140.5,235.5 L1142.2,235.4 L1143.9,235.4 L1145.6,235.3 L1147.2,235.2 L1148.9,235.1 L1150.6,235.0 L1152.2,234.9 L1153.9,234.8 L1155.6,234.7 L1157.3,234.6 L1158.9,234.4 L1160.6,234.3 L1162.3,234.1 L1163.9,234.0 L1165.6,233.8 L1167.3,233.6 L1169.0,233.4 L1170.6,233.2 L1172.3,233.0 L1174.0,232.8 L1175.6,232.6 L1177.3,232.4 L1179.0,232.1 L1180.7,231.9 L1182.3,231.6 L1184.0,231.4 L1185.7,231.1 L1187.3,230.8 L1189.0,230.6 L1190.7,230.3 L1192.4,230.0 L1194.0,229.7 L1195.7,229.4 L1197.4,229.1 L1199.0,228.8 L1200.7,228.4 L1202.4,228.1 L1204.1,227.8 L1205.7,227.4 L1207.4,227.1 L1209.1,226.7 L1210.8,226.4 L1212.4,226.0 L1214.1,225.6 L1215.8,225.2 L1217.4,224.9 L1219.1,224.5 L1220.8,224.1 L1222.5,223.7 L1224.1,223.3 L1225.8,222.9 L1227.5,222.5 L1229.1,222.1 L1230.8,221.6 L1232.5,221.2 L1234.2,220.8 L1235.8,220.4 L1237.5,219.9 L1239.2,219.5 L1240.8,219.0 L1242.5,218.6 L1244.2,218.1 L1245.9,217.7 L1247.5,217.2 L1249.2,216.8 L1250.9,216.3 L1252.5,215.8 L1254.2,215.4 L1255.9,214.9 L1257.6,214.4 L1259.2,214.0 L1260.9,213.5 L1262.6,213.0 L1264.2,212.5 L1265.9,212.1 L1267.6,211.6 L1269.3,211.1 L1270.9,210.6 L1272.6,210.1 L1274.3,209.6 L1276.0,209.1 L1277.6,208.6 L1279.3,208.2 L1281.0,207.7 L1282.6,207.2 L1284.3,206.7 L1286.0,206.2 L1287.7,205.7 L1289.3,205.2 L1291.0,204.7 L1292.7,204.2 L1294.3,203.7 L1296.0,203.2 L1297.7,202.8 L1299.4,202.3 L1301.0,201.8 L1302.7,201.3 L1304.4,200.8 L1306.0,200.3 L1307.7,199.8 L1309.4,199.3 L1311.1,198.9 L1312.7,198.4 L1314.4,197.9 L1316.1,197.4 L1317.7,197.0 L1319.4,196.5 L1321.1,196.0 L1322.8,195.5 L1324.4,195.1 L1326.1,194.6 L1327.8,194.1 L1329.4,193.7 L1331.1,193.2 L1332.8,192.8 L1334.5,192.3 L1336.1,191.9 L1337.8,191.4 L1339.5,191.0 L1341.2,190.5 L1342.8,190.1 L1344.5,189.6 L1346.2,189.2 L1347.8,188.8 L1349.5,188.3 L1351.2,187.9 L1352.9,187.5 L1354.5,187.1 L1356.2,186.7 L1357.9,186.2 L1359.5,185.8 L1361.2,185.4 L1362.9,185.0 L1364.6,184.6 L1366.2,184.2 L1367.9,183.8 L1369.6,183.4 L1371.2,183.1 L1372.9,182.7 L1374.6,182.3 L1376.3,181.9 L1377.9,181.5 L1379.6,181.2 L1381.3,180.8 L1382.9,180.5 L1384.6,180.1 L1386.3,179.7 L1388.0,179.4 L1389.6,179.0 L1391.3,178.7 L1393.0,178.4 L1394.6,178.0 L1396.3,177.7 L1398.0,177.4 L1399.7,177.1 L1401.3,176.7 L1403.0,176.4 L1404.7,176.1 L1406.4,175.8 L1408.0,175.5 L1409.7,175.2 L1411.4,174.9 L1413.0,174.6 L1414.7,174.3 L1416.4,174.0 L1418.1,173.8 L1419.7,173.5 L1421.4,173.2 L1423.1,173.0 L1424.7,172.7 L1426.4,172.4 L1428.1,172.2 L1429.8,171.9 L1431.4,171.7 L1433.1,171.4 L1434.8,171.2 L1436.4,170.9 L1438.1,170.7 L1439.8,170.5 L1441.5,170.2 L1443.1,170.0 L1444.8,169.8 L1446.5,169.6 L1448.1,169.4 L1449.8,169.2 L1451.5,168.9 L1453.2,168.7 L1454.8,168.5 L1456.5,168.3 L1458.2,168.2 L1459.8,168.0 L1461.5,167.8 L1463.2,167.6 L1464.9,167.4 L1466.5,167.2 L1468.2,167.1 L1469.9,166.9 L1471.6,166.7 L1473.2,166.6 L1474.9,166.4 L1476.6,166.2 L1478.2,166.1 L1479.9,165.9 L1481.6,165.8 L1483.3,165.6 L1484.9,165.5 L1486.6,165.3 L1488.3,165.2 L1489.9,165.1 L1491.6,164.9 L1493.3,164.8 L1495.0,164.7 L1496.6,164.5 L1498.3,164.4 L1500.0,164.3 L1501.6,164.2 L1503.3,164.1 L1505.0,163.9 L1506.7,163.8 L1508.3,163.7 L1510.0,163.6 L1511.7,163.5 L1513.3,163.4 L1515.0,163.3 L1516.7,163.2 L1518.4,163.1 L1520.0,163.0 L1521.7,162.9 L1523.4,162.8 L1525.0,162.8 L1526.7,162.7 L1528.4,162.6 L1530.1,162.5 L1531.7,162.4 L1533.4,162.3 L1535.1,162.3 L1536.8,162.2 L1538.4,162.1 L1540.1,162.0 L1541.8,162.0 L1543.4,161.9 L1545.1,161.8 L1546.8,161.8 L1548.5,161.7 L1550.1,161.6 L1551.8,161.6 L1553.5,161.5 L1555.1,161.5 L1556.8,161.4 L1558.5,161.4 L1560.2,161.3 L1561.8,161.3 L1563.5,161.2 L1565.2,161.2 L1566.8,161.1 L1568.5,161.1 L1570.2,161.0 L1571.9,161.0 L1573.5,160.9 L1575.2,160.9 L1576.9,160.8 L1578.5,160.8 L1580.2,160.8 L1581.9,160.7 L1583.6,160.7 L1585.2,160.7 L1586.9,160.6 L1588.6,160.6 L1590.2,160.6 L1591.9,160.5 L1593.6,160.5 L1595.3,160.5 L1596.9,160.4 L1598.6,160.4 L1600.3,160.4 L1602.0,160.3 L1603.6,160.3 L1605.3,160.3 L1607.0,160.3 L1608.6,160.2 L1610.3,160.2 L1612.0,160.2 L1613.7,160.2 L1615.3,160.2 L1617.0,160.1 L1618.7,160.1 L1620.3,160.1 L1622.0,160.1 L1623.7,160.1 L1625.4,160.0 L1627.0,160.0 L1628.7,160.0 L1630.4,160.0 L1632.0,160.0 L1633.7,159.9 L1635.4,159.9 L1637.1,159.9 L1638.7,159.9 L1640.4,159.9 L1642.1,159.9 L1643.7,159.9 L1645.4,159.9 L1647.1,159.8 L1648.8,159.8 L1650.4,159.8 L1652.1,159.8 L1653.8,159.8 L1655.4,159.8 L1657.1,159.8 L1658.8,159.8 L1660.5,159.8 L1662.1,159.7 L1663.8,159.7 L1665.5,159.7 L1667.2,159.7 L1668.8,159.7 L1670.5,159.7 L1672.2,159.7 L1673.8,159.7 L1675.5,159.7 L1677.2,159.7 L1678.9,159.7 L1680.5,159.7 L1682.2,159.7 L1683.9,159.7 L1685.5,159.6 L1687.2,159.6 L1688.9,159.6 L1690.6,159.6 L1692.2,159.6 L1693.9,159.6 L1695.6,159.6 L1697.2,159.6 L1698.9,159.6 L1700.6,159.6 L1702.3,159.6 L1703.9,159.6 L1705.6,159.6 L1707.3,159.6 L1708.9,159.6 L1710.6,159.6 L1712.3,159.6 L1714.0,159.6 L1715.6,159.6 L1717.3,159.6 L1719.0,159.6 L1720.6,159.6 L1722.3,159.6 L1724.0,159.6 L1725.7,159.6 L1727.3,159.6 L1729.0,159.6 L1730.7,159.6 L1732.4,159.5 L1734.0,159.5 L1735.7,159.5 L1737.4,159.5 L1739.0,159.5 L1740.7,159.5 L1742.4,159.5 L1744.1,159.5 L1745.7,159.5 L1747.4,159.5 L1749.1,159.5 L1750.7,159.5 L1752.4,159.5 L1754.1,159.5 L1755.8,159.5 L1757.4,159.5 L1759.1,159.5 L1760.8,159.5 L1762.4,159.5 L1764.1,159.5 L1765.8,159.5 L1767.5,159.5 L1769.1,159.5 L1770.8,159.5 L1772.5,159.5 L1774.1,159.5 L1775.8,159.5 L1777.5,159.5 L1779.2,159.5 L1780.8,159.5 L1782.5,159.5 L1784.2,159.5 L1785.9,159.5 L1787.5,159.5 L1789.2,159.5 L1790.9,159.5 L1792.5,159.5 L1794.2,159.5 L1795.9,159.5 L1797.6,159.5 L1799.2,159.5 L1800.9,159.5 L1802.6,159.5 L1804.2,159.5 L1805.9,159.5 L1807.6,159.5 L1809.3,159.5 L1810.9,159.5 L1812.6,159.5 L1814.3,159.5 L1815.9,159.5 L1817.6,159.5 L1819.3,159.5 L1821.0,159.5 L1822.6,159.5 L1824.3,159.5 L1826.0,159.5 L1827.6,159.5 L1829.3,159.5 L1831.0,159.5 L1832.7,159.5 L1834.3,159.5 L1836.0,159.5 L1837.7,159.5 L1839.3,159.5 L1841.0,159.5 L1842.7,159.5 L1844.4,159.5 L1846.0,159.5 L1847.7,159.5 L1849.4,159.5 L1851.1,159.5 L1852.7,159.5 L1854.4,159.5 L1856.1,159.5 L1857.7,159.5 L1859.4,159.5 L1861.1,159.5 L1862.8,159.5 L1864.4,159.5 L1866.1,159.5 L1867.8,159.5 L1869.4,159.5 L1871.1,159.5 L1872.8,159.5 L1874.5,159.5 L1876.1,159.5 L1877.8,159.5 L1879.5,159.5 L1881.1,159.5 L1882.8,159.5 L1884.5,159.5 L1886.2,159.5 L1887.8,159.5 L1889.5,159.5 L1891.2,159.5 L1892.8,159.5 L1894.5,159.5 L1896.2,159.5 L1897.9,159.5 L1899.5,159.5 L1901.2,159.5 L1902.9,159.5 L1904.5,159.5 L1906.2,159.5 L1907.9,159.5 L1909.6,159.5 L1911.2,159.5 L1912.9,159.5 L1914.6,159.5 L1916.3,159.5 L1917.9,159.5 L1919.6,159.5 L1921.3,159.5 L1922.9,159.5 L1924.6,159.5 L1926.3,159.5 L1928.0,159.5 L1929.6,159.5 L1931.3,159.5 L1933.0,159.5 L1934.6,159.5 L1936.3,159.5 L1938.0,159.5 L1939.7,159.5 L1941.3,159.5 L1943.0,159.5 L1944.7,159.5 L1946.3,159.5 L1948.0,159.5 L1949.7,159.5 L1951.4,159.5 L1953.0,159.5 L1954.7,159.5 L1956.4,159.5 L1958.0,159.5 L1959.7,159.5 L1961.4,159.5 L1963.1,159.5 L1964.7,159.5 L1966.4,159.5 L1968.1,159.5 L1969.7,159.5 L1971.4,159.5 L1973.1,159.5 L1974.8,159.5 L1976.4,159.5 L1978.1,159.5 L1979.8,159.5 L1981.5,159.5 L1983.1,159.5 L1984.8,159.5 L1986.5,159.5 L1987.8,159.5" stroke="#FF00FF" stroke-width="7"/>
<path d="M532.0,159.5 L532.8,159.5 L533.7,159.5 L534.5,159.5 L535.3,159.5 L536.2,159.5 L537.0,159.5 L537.9,159.5 L538.7,159.5 L539.5,159.5 L540.4,159.5 L541.2,159.5 L542.0,159.5 L542.9,159.5 L543.7,159.5 L544.5,159.5 L545.4,159.5 L546.2,159.5 L547.0,159.5 L547.9,159.5 L548.7,159.5 L549.6,159.5 L550.4,159.5 L551.2,159.5 L552.1,159.5 L552.9,159.5 L553.7,159.5 L554.6,159.5 L555.4,159.5 L556.2,159.5 L557.1,159.5 L557.9,159.5 L558.7,159.5 L559.6,159.5 L560.4,159.5 L561.3,159.5 L562.1,159.5 L562.9,159.5 L563.8,159.5 L564.6,159.5 L565.4,159.5 L566.3,159.5 L567.1,159.5 L567.9,159.5 L568.8,159.5 L569.6,159.5 L570.5,159.5 L571.3,159.5 L572.1,159.5 L573.0,159.5 L573.8,159.6 L574.6,159.6 L575.5,159.6 L576.3,159.6 L577.1,159.6 L578.0,159.6 L578.8,159.6 L579.6,159.6 L580.5,159.6 L581.3,159.6 L582.2,159.6 L583.0,159.6 L583.8,159.6 L584.7,159.6 L585.5,159.6 L586.3,159.6 L587.2,159.6 L588.0,159.6 L588.8,159.6 L589.7,159.6 L590.5,159.6 L591.3,159.6 L592.2,159.6 L593.0,159.6 L593.9,159.6 L594.7,159.6 L595.5,159.6 L596.4,159.6 L597.2,159.6 L598.0,159.6 L598.9,159.6 L599.7,159.6 L600.5,159.6 L601.4,159.6 L602.2,159.6 L603.1,159.6 L603.9,159.6 L604.7,159.6 L605.6,159.6 L606.4,159.6 L607.2,159.6 L608.1,159.6 L608.9,159.6 L609.7,159.6 L610.6,159.6 L611.4,159.6 L612.2,159.6 L613.1,159.6 L613.9,159.6 L614.8,159.6 L615.6,159.6 L616.4,159.6 L617.3,159.7 L618.1,159.7 L618.9,159.7 L619.8,159.7 L620.6,159.7 L621.4,159.7 L622.3,159.7 L623.1,159.7 L623.9,159.7 L624.8,159.7 L625.6,159.7 L626.5,159.7 L627.3,159.7 L628.1,159.7 L629.0,159.7 L629.8,159.7 L630.6,159.7 L631.5,159.7 L632.3,159.7 L633.1,159.7 L634.0,159.7 L634.8,159.7 L635.7,159.7 L636.5,159.7 L637.3,159.7 L638.2,159.7 L639.0,159.8 L639.8,159.8 L640.7,159.8 L641.5,159.8 L642.3,159.8 L643.2,159.8 L644.0,159.8 L644.8,159.8 L645.7,159.8 L646.5,159.8 L647.4,159.8 L648.2,159.8 L649.0,159.8 L649.9,159.8 L650.7,159.8 L651.5,159.8 L652.4,159.8 L653.2,159.8 L654.0,159.9 L654.9,159.9 L655.7,159.9 L656.5,159.9 L657.4,159.9 L658.2,159.9 L659.1,159.9 L659.9,159.9 L660.7,159.9 L661.6,159.9 L662.4,159.9 L663.2,159.9 L664.1,159.9 L664.9,160.0 L665.7,160.0 L666.6,160.0 L667.4,160.0 L668.3,160.0 L669.1,160.0 L669.9,160.0 L670.8,160.0 L671.6,160.0 L672.4,160.0 L673.3,160.0 L674.1,160.1 L674.9,160.1 L675.8,160.1 L676.6,160.1 L677.4,160.1 L678.3,160.1 L679.1,160.1 L680.0,160.1 L680.8,160.1 L681.6,160.1 L682.5,160.2 L683.3,160.2 L684.1,160.2 L685.0,160.2 L685.8,160.2 L686.6,160.2 L687.5,160.2 L688.3,160.2 L689.1,160.3 L690.0,160.3 L690.8,160.3 L691.7,160.3 L692.5,160.3 L693.3,160.3 L694.2,160.3 L695.0,160.4 L695.8,160.4 L696.7,160.4 L697.5,160.4 L698.3,160.4 L699.2,160.4 L700.0,160.5 L700.9,160.5 L701.7,160.5 L702.5,160.5 L703.4,160.5 L704.2,160.5 L705.0,160.6 L705.9,160.6 L706.7,160.6 L707.5,160.6 L708.4,160.6 L709.2,160.6 L710.0,160.7 L710.9,160.7 L711.7,160.7 L712.6,160.7 L713.4,160.7 L714.2,160.8 L715.1,160.8 L715.9,160.8 L716.7,160.8 L717.6,160.8 L718.4,160.9 L719.2,160.9 L720.1,160.9 L720.9,160.9 L721.7,161.0 L722.6,161.0 L723.4,161.0 L724.3,161.0 L725.1,161.1 L725.9,161.1 L726.8,161.1 L727.6,161.1 L728.4,161.2 L729.3,161.2 L730.1,161.2 L730.9,161.2 L731.8,161.3 L732.6,161.3 L733.5,161.3 L734.3,161.4 L735.1,161.4 L736.0,161.4 L736.8,161.4 L737.6,161.5 L738.5,161.5 L739.3,161.5 L740.1,161.6 L741.0,161.6 L741.8,161.6 L742.6,161.7 L743.5,161.7 L744.3,161.7 L745.2,161.8 L746.0,161.8 L746.8,161.8 L747.7,161.9 L748.5,161.9 L749.3,161.9 L750.2,162.0 L751.0,162.0 L751.8,162.1 L752.7,162.1 L753.5,162.1 L754.3,162.2 L755.2,162.2 L756.0,162.3 L756.9,162.3 L757.7,162.3 L758.5,162.4 L759.4,162.4 L760.2,162.5 L761.0,162.5 L761.9,162.6 L762.7,162.6 L763.5,162.6 L764.4,162.7 L765.2,162.7 L766.1,162.8 L766.9,162.8 L767.7,162.9 L768.6,162.9 L769.4,163.0 L770.2,163.0 L771.1,163.1 L771.9,163.1 L772.7,163.2 L773.6,163.2 L774.4,163.3 L775.2,163.3 L776.1,163.4 L776.9,163.5 L777.8,163.5 L778.6,163.6 L779.4,163.6 L780.3,163.7 L781.1,163.7 L781.9,163.8 L782.8,163.9 L783.6,163.9 L784.4,164.0 L785.3,164.0 L786.1,164.1 L786.9,164.2 L787.8,164.2 L788.6,164.3 L789.5,164.4 L790.3,164.4 L791.1,164.5 L792.0,164.6 L792.8,164.6 L793.6,164.7 L794.5,164.8 L795.3,164.8 L796.1,164.9 L797.0,165.0 L797.8,165.1 L798.7,165.1 L799.5,165.2 L800.3,165.3 L801.2,165.4 L802.0,165.4 L802.8,165.5 L803.7,165.6 L804.5,165.7 L805.3,165.8 L806.2,165.8 L807.0,165.9 L807.8,166.0 L808.7,166.1 L809.5,166.2 L810.4,166.3 L811.2,166.4 L812.0,166.5 L812.9,166.5 L813.7,166.6 L814.5,166.7 L815.4,166.8 L816.2,166.9 L817.0,167.0 L817.9,167.1 L818.7,167.2 L819.5,167.3 L820.4,167.4 L821.2,167.5 L822.1,167.6 L822.9,167.7 L823.7,167.8 L824.6,167.9 L825.4,168.0 L826.2,168.2 L827.1,168.3 L827.9,168.4 L828.7,168.5 L829.6,168.6 L830.4,168.7 L831.3,168.8 L832.1,169.0 L832.9,169.1 L833.8,169.2 L834.6,169.3 L835.4,169.5 L836.3,169.6 L837.1,169.7 L837.9,169.9 L838.8,170.0 L839.6,170.2 L840.4,170.3 L841.3,170.4 L842.1,170.6 L843.0,170.7 L843.8,170.9 L844.6,171.0 L845.5,171.2 L846.3,171.4 L847.1,171.5 L848.0,171.7 L848.8,171.9 L849.6,172.0 L850.5,172.2 L851.3,172.4 L852.1,172.6 L853.0,172.8 L853.8,173.0 L854.7,173.2 L855.5,173.4 L856.3,173.6 L857.2,173.8 L858.0,174.0 L858.8,174.2 L859.7,174.4 L860.5,174.7 L861.3,174.9 L862.2,175.2 L863.0,175.4 L863.9,175.7 L864.7,175.9 L865.5,176.2 L866.4,176.5 L867.2,176.7 L868.0,177.0 L868.9,177.3 L869.7,177.6 L870.5,177.9 L871.4,178.3 L872.2,178.6 L873.0,178.9 L873.9,179.3 L874.7,179.7 L875.6,180.0 L876.4,180.4 L877.2,180.8 L878.1,181.2 L878.9,181.6 L879.7,182.0 L880.6,182.5 L881.4,182.9 L882.2,183.4 L883.1,183.9 L883.9,184.4 L884.7,184.9 L885.6,185.4 L886.4,186.0 L887.3,186.5 L888.1,187.1 L888.9,187.7 L889.8,188.3 L890.6,188.9 L891.4,189.6 L892.3,190.3 L893.1,191.0 L893.9,191.7 L894.8,192.4 L895.6,193.2 L896.5,193.9 L897.3,194.7 L898.1,195.6 L899.0,196.4 L899.8,197.3 L900.6,198.2 L901.5,199.1 L902.3,200.1 L903.1,201.1 L904.0,202.1 L904.8,203.2 L905.6,204.3 L906.5,205.4 L907.3,206.5 L908.2,207.7 L909.0,208.9 L909.8,210.2 L910.7,211.5 L911.5,212.8 L912.3,214.1 L913.2,215.5 L914.0,217.0 L914.8,218.5 L915.7,220.0 L916.5,221.6 L917.3,223.2 L918.2,224.8 L919.0,226.5 L919.9,228.3 L920.7,230.0 L921.5,231.9 L922.4,233.8 L923.2,235.7 L924.0,237.7 L924.9,239.7 L925.7,241.8 L926.5,243.9 L927.4,246.1 L928.2,248.4 L929.1,250.7 L929.9,253.0 L930.7,255.4 L931.6,257.9 L932.4,260.4 L933.2,263.0 L934.1,265.6 L934.9,268.3 L935.7,271.1 L936.6,273.9 L937.4,276.8 L938.2,279.7 L939.1,282.7 L939.9,285.7 L940.8,288.9 L941.6,292.1 L942.4,295.3 L943.3,298.6 L944.1,302.0 L944.9,305.4 L945.8,308.9 L946.6,312.5 L947.4,316.1 L948.3,319.8 L949.1,323.6 L949.9,327.4 L950.8,331.3 L951.6,335.2 L952.5,339.2 L953.3,343.3 L954.1,347.4 L955.0,351.6 L955.8,355.9 L956.6,360.2 L957.5,364.6 L958.3,369.0 L959.1,373.5 L960.0,378.1 L960.8,382.7 L961.7,387.3 L962.5,392.1 L963.3,396.8 L964.2,401.6 L965.0,406.5 L965.8,411.4 L966.7,416.4 L967.5,421.4 L968.3,426.5 L969.2,431.6 L970.0,436.7 L970.8,441.9 L971.7,447.2 L972.5,452.4 L973.4,457.7 L974.2,463.0 L975.0,468.4 L975.9,473.8 L976.7,479.2 L977.5,484.6 L978.4,490.1 L979.2,495.6 L980.0,501.1 L980.9,506.6 L981.7,512.1 L982.6,517.6 L983.4,523.2 L984.2,528.7 L985.1,534.3 L985.9,539.8 L986.7,545.3 L987.6,550.9 L988.4,556.4 L989.2,561.9 L990.1,567.4 L990.9,572.8 L991.7,578.3 L992.6,583.7 L993.4,589.1 L994.3,594.4 L995.1,599.8 L995.9,605.1 L996.8,610.3 L997.6,615.5 L998.4,620.7 L999.3,625.8 L1000.1,630.8 L1000.9,635.8 L1001.8,640.8 L1002.6,645.7 L1003.4,650.5 L1004.3,655.3 L1005.1,660.0 L1006.0,664.6 L1006.8,669.1 L1007.6,673.6 L1008.5,678.0 L1009.3,682.4 L1010.1,686.6 L1011.0,690.8 L1011.8,694.9 L1012.6,698.9 L1013.5,702.9 L1014.3,706.7 L1015.2,710.5 L1016.0,714.2 L1016.8,717.9 L1017.7,721.4 L1018.5,724.9 L1019.3,728.3 L1020.2,731.7 L1021.0,735.0 L1021.8,738.2 L1022.7,741.4 L1023.5,744.5 L1024.3,747.6 L1025.2,750.7 L1026.0,753.7 L1026.9,756.7 L1027.7,759.7 L1028.5,762.7 L1029.4,765.8 L1030.2,768.8 L1031.0,771.9 L1031.9,775.0 L1032.7,778.2 L1033.5,781.4 L1034.4,784.8 L1035.2,788.2 L1036.0,791.8 L1036.9,795.5 L1037.7,799.3 L1038.6,803.3 L1039.4,807.4 L1040.2,811.7 L1041.1,816.3 L1041.9,821.1 L1042.7,826.1 L1043.6,831.3 L1044.4,836.9 L1045.2,842.7 L1046.1,848.8 L1046.9,855.3 L1047.8,862.0 L1048.6,869.2 L1049.4,876.6 L1050.3,884.5 L1051.1,892.7 L1051.9,901.3 L1052.8,910.2 L1053.6,919.6 L1054.4,929.3 L1055.3,939.4 L1056.1,949.9 L1056.9,960.7 L1057.8,971.8 L1058.6,983.3 L1059.5,995.1 L1060.3,1007.2 L1061.1,1019.5 L1062.0,1032.1 L1062.8,1044.8 L1063.6,1057.8 L1064.5,1070.8 L1065.3,1084.0 L1066.1,1097.2 L1067.0,1110.4 L1067.8,1123.5 L1068.6,1136.5 L1069.5,1149.4 L1070.3,1162.1 L1071.2,1174.5 L1072.0,1186.5 L1072.8,1198.2 L1073.7,1209.5 L1074.5,1220.3 L1075.3,1230.5 L1076.2,1240.0 L1077.0,1249.0 L1077.8,1257.2 L1078.7,1264.6 L1079.5,1271.2 L1080.4,1276.9 L1081.2,1281.7 L1082.0,1285.6 L1082.9,1288.4 L1083.7,1290.2 L1084.5,1291.0 L1085.4,1290.7 L1086.2,1289.2 L1087.0,1286.7 L1087.9,1283.0 L1088.7,1278.2 L1089.5,1272.3 L1090.4,1265.2 L1091.2,1257.1 L1092.1,1247.9 L1092.9,1237.7 L1093.7,1226.5 L1094.6,1214.2 L1095.4,1201.0 L1096.2,1186.8 L1097.1,1171.8 L1097.9,1155.9 L1098.7,1139.3 L1099.6,1121.9 L1100.4,1103.8 L1101.2,1085.0 L1102.1,1065.7 L1102.9,1045.9 L1103.8,1025.6 L1104.6,1004.9 L1105.4,983.9 L1106.3,962.6 L1107.1,941.1 L1107.9,919.4 L1108.8,897.6 L1109.6,875.8 L1110.4,854.0 L1111.3,832.3 L1112.1,810.6 L1113.0,789.2 L1113.8,768.0 L1114.6,747.0 L1115.5,726.3 L1116.3,706.0 L1117.1,686.0 L1118.0,666.5 L1118.8,647.4 L1119.6,628.7 L1120.5,610.5 L1121.3,592.9 L1122.1,575.7 L1123.0,559.1 L1123.8,543.1 L1124.7,527.6 L1125.5,512.6 L1126.3,498.2 L1127.2,484.4 L1128.0,471.1 L1128.8,458.4 L1129.7,446.2 L1130.5,434.6 L1131.3,423.5 L1132.2,413.0 L1133.0,402.9 L1133.8,393.4 L1134.7,384.3 L1135.5,375.7 L1136.4,367.6 L1137.2,359.9 L1138.0,352.6 L1138.9,345.7 L1139.7,339.2 L1140.5,333.1 L1141.4,327.3 L1142.2,321.9 L1143.0,316.7 L1143.9,311.9 L1144.7,307.4 L1145.6,303.2 L1146.4,299.2 L1147.2,295.4 L1148.1,291.9 L1148.9,288.6 L1149.7,285.5 L1150.6,282.6 L1151.4,279.8 L1152.2,277.3 L1153.1,274.8 L1153.9,272.6 L1154.7,270.4 L1155.6,268.4 L1156.4,266.5 L1157.3,264.7 L1158.1,263.1 L1158.9,261.5 L1159.8,260.0 L1160.6,258.5 L1161.4,257.2 L1162.3,255.9 L1163.1,254.7 L1163.9,253.6 L1164.8,252.5 L1165.6,251.5 L1166.4,250.5 L1167.3,249.5 L1168.1,248.6 L1169.0,247.8 L1169.8,247.0 L1170.6,246.2 L1171.5,245.5 L1172.3,244.7 L1173.1,244.0 L1174.0,243.4 L1174.8,242.8 L1175.6,242.1 L1176.5,241.6 L1177.3,241.0 L1178.2,240.4 L1179.0,239.9 L1179.8,239.4 L1180.7,238.9 L1181.5,238.4 L1182.3,238.0 L1183.2,237.5 L1184.0,237.1 L1184.8,236.7 L1185.7,236.3 L1186.5,235.9 L1187.3,235.5 L1188.2,235.1 L1189.0,234.7 L1189.9,234.4 L1190.7,234.0 L1191.5,233.7 L1192.4,233.3 L1193.2,233.0 L1194.0,232.7 L1194.9,232.4 L1195.7,232.1 L1196.5,231.8 L1197.4,231.5 L1198.2,231.2 L1199.0,230.9 L1199.9,230.6 L1200.7,230.3 L1201.6,230.1 L1202.4,229.8 L1203.2,229.5 L1204.1,229.3 L1204.9,229.0 L1205.7,228.8 L1206.6,228.5 L1207.4,228.3 L1208.2,228.0 L1209.1,227.8 L1209.9,227.5 L1210.8,227.3 L1211.6,227.1 L1212.4,226.8 L1213.3,226.6 L1214.1,226.4 L1214.9,226.1 L1215.8,225.9 L1216.6,225.7 L1217.4,225.4 L1218.3,225.2 L1219.1,225.0 L1219.9,224.8 L1220.8,224.5 L1221.6,224.3 L1222.5,224.1 L1223.3,223.9 L1224.1,223.6 L1225.0,223.4 L1225.8,223.2 L1226.6,223.0 L1227.5,222.7 L1228.3,222.5 L1229.1,222.3 L1230.0,222.1 L1230.8,221.8 L1231.6,221.6 L1232.5,221.4 L1233.3,221.2 L1234.2,220.9 L1235.0,220.7 L1235.8,220.5 L1236.7,220.3 L1237.5,220.0 L1238.3,219.8 L1239.2,219.6 L1240.0,219.4 L1240.8,219.1 L1241.7,218.9 L1242.5,218.7 L1243.4,218.4 L1244.2,218.2 L1245.0,218.0 L1245.9,217.7 L1246.7,217.5 L1247.5,217.3 L1248.4,217.0 L1249.2,216.8 L1250.0,216.6 L1250.9,216.3 L1251.7,216.1 L1252.5,215.9 L1253.4,215.6 L1254.2,215.4 L1255.1,215.2 L1255.9,214.9 L1256.7,214.7 L1257.6,214.5 L1258.4,214.2 L1259.2,214.0 L1260.1,213.7 L1260.9,213.5 L1261.7,213.3 L1262.6,213.0 L1263.4,212.8 L1264.2,212.5 L1265.1,212.3 L1265.9,212.1 L1266.8,211.8 L1267.6,211.6 L1268.4,211.3 L1269.3,211.1 L1270.1,210.8 L1270.9,210.6 L1271.8,210.4 L1272.6,210.1 L1273.4,209.9 L1274.3,209.6 L1275.1,209.4 L1276.0,209.1 L1276.8,208.9 L1277.6,208.7 L1278.5,208.4 L1279.3,208.2 L1280.1,207.9 L1281.0,207.7 L1281.8,207.4 L1282.6,207.2 L1283.5,206.9 L1284.3,206.7 L1285.1,206.4 L1286.0,206.2 L1286.8,205.9 L1287.7,205.7 L1288.5,205.5 L1289.3,205.2 L1290.2,205.0 L1291.0,204.7 L1291.8,204.5 L1292.7,204.2 L1293.5,204.0 L1294.3,203.7 L1295.2,203.5 L1296.0,203.2 L1296.8,203.0 L1297.7,202.8 L1298.5,202.5 L1299.4,202.3 L1300.2,202.0 L1301.0,201.8 L1301.9,201.5 L1302.7,201.3 L1303.5,201.0 L1304.4,200.8 L1305.2,200.6 L1306.0,200.3 L1306.9,200.1 L1307.7,199.8 L1308.6,199.6 L1309.4,199.3 L1310.2,199.1 L1311.1,198.9 L1311.9,198.6 L1312.7,198.4 L1313.6,198.1 L1314.4,197.9 L1315.2,197.7 L1316.1,197.4 L1316.9,197.2 L1317.7,197.0 L1318.6,196.7 L1319.4,196.5 L1320.3,196.2 L1321.1,196.0 L1321.9,195.8 L1322.8,195.5 L1323.6,195.3 L1324.4,195.1 L1325.3,194.8 L1326.1,194.6 L1326.9,194.4 L1327.8,194.1 L1328.6,193.9 L1329.4,193.7 L1330.3,193.4 L1331.1,193.2 L1332.0,193.0 L1332.8,192.8 L1333.6,192.5 L1334.5,192.3 L1335.3,192.1 L1336.1,191.9 L1337.0,191.6 L1337.8,191.4 L1338.6,191.2 L1339.5,191.0 L1340.3,190.7 L1341.2,190.5 L1342.0,190.3 L1342.8,190.1 L1343.7,189.9 L1344.5,189.6 L1345.3,189.4 L1346.2,189.2 L1347.0,189.0 L1347.8,188.8 L1348.7,188.6 L1349.5,188.3 L1350.3,188.1 L1351.2,187.9 L1352.0,187.7 L1352.9,187.5 L1353.7,187.3 L1354.5,187.1 L1355.4,186.9 L1356.2,186.7 L1357.0,186.4 L1357.9,186.2 L1358.7,186.0 L1359.5,185.8 L1360.4,185.6 L1361.2,185.4 L1362.0,185.2 L1362.9,185.0 L1363.7,184.8 L1364.6,184.6 L1365.4,184.4 L1366.2,184.2 L1367.1,184.0 L1367.9,183.8 L1368.7,183.6 L1369.6,183.4 L1370.4,183.2 L1371.2,183.1 L1372.1,182.9 L1372.9,182.7 L1373.8,182.5 L1374.6,182.3 L1375.4,182.1 L1376.3,181.9 L1377.1,181.7 L1377.9,181.5 L1378.8,181.4 L1379.6,181.2 L1380.4,181.0 L1381.3,180.8 L1382.1,180.6 L1382.9,180.5 L1383.8,180.3 L1384.6,180.1 L1385.5,179.9 L1386.3,179.7 L1387.1,179.6 L1388.0,179.4 L1388.8,179.2 L1389.6,179.0 L1390.5,178.9 L1391.3,178.7 L1392.1,178.5 L1393.0,178.4 L1393.8,178.2 L1394.6,178.0 L1395.5,177.9 L1396.3,177.7 L1397.2,177.5 L1398.0,177.4 L1398.8,177.2 L1399.7,177.1 L1400.5,176.9 L1401.3,176.7 L1402.2,176.6 L1403.0,176.4 L1403.8,176.3 L1404.7,176.1 L1405.5,176.0 L1406.4,175.8 L1407.2,175.7 L1408.0,175.5 L1408.9,175.4 L1409.7,175.2 L1410.5,175.1 L1411.4,174.9 L1412.2,174.8 L1413.0,174.6 L1413.9,174.5 L1414.7,174.3 L1415.5,174.2 L1416.4,174.0 L1417.2,173.9 L1418.1,173.8 L1418.9,173.6 L1419.7,173.5 L1420.6,173.4 L1421.4,173.2 L1422.2,173.1 L1423.1,173.0 L1423.9,172.8 L1424.7,172.7 L1425.6,172.6 L1426.4,172.4 L1427.2,172.3 L1428.1,172.2 L1428.9,172.0 L1429.8,171.9 L1430.6,171.8 L1431.4,171.7 L1432.3,171.5 L1433.1,171.4 L1433.9,171.3 L1434.8,171.2 L1435.6,171.1 L1436.4,170.9 L1437.3,170.8 L1438.1,170.7 L1439.0,170.6 L1439.8,170.5 L1440.6,170.4 L1441.5,170.2 L1442.3,170.1 L1443.1,170.0 L1444.0,169.9 L1444.8,169.8 L1445.6,169.7 L1446.5,169.6 L1447.3,169.5 L1448.1,169.4 L1449.0,169.3 L1449.8,169.2 L1450.7,169.1 L1451.5,168.9 L1452.3,168.8 L1453.2,168.7 L1454.0,168.6 L1454.8,168.5 L1455.7,168.4 L1456.5,168.3 L1457.3,168.2 L1458.2,168.2 L1459.0,168.1 L1459.8,168.0 L1460.7,167.9 L1461.5,167.8 L1462.4,167.7 L1463.2,167.6 L1464.0,167.5 L1464.9,167.4 L1465.7,167.3 L1466.5,167.2 L1467.4,167.1 L1468.2,167.1 L1469.0,167.0 L1469.9,166.9 L1470.7,166.8 L1471.6,166.7 L1472.4,166.6 L1473.2,166.6 L1474.1,166.5 L1474.9,166.4 L1475.7,166.3 L1476.6,166.2 L1477.4,166.2 L1478.2,166.1 L1479.1,166.0 L1479.9,165.9 L1480.7,165.8 L1481.6,165.8 L1482.4,165.7 L1483.3,165.6 L1484.1,165.5 L1484.9,165.5 L1485.8,165.4 L1486.6,165.3 L1487.4,165.3 L1488.3,165.2 L1489.1,165.1 L1489.9,165.1 L1490.8,165.0 L1491.6,164.9 L1492.4,164.9 L1493.3,164.8 L1494.1,164.7 L1495.0,164.7 L1495.8,164.6 L1496.6,164.5 L1497.5,164.5 L1498.3,164.4 L1499.1,164.4 L1500.0,164.3 L1500.8,164.2 L1501.6,164.2 L1502.5,164.1 L1503.3,164.1 L1504.2,164.0 L1505.0,163.9 L1505.8,163.9 L1506.7,163.8 L1507.5,163.8 L1508.3,163.7 L1509.2,163.7 L1510.0,163.6 L1510.8,163.6 L1511.7,163.5 L1512.5,163.5 L1513.3,163.4 L1514.2,163.4 L1515.0,163.3 L1515.9,163.3 L1516.7,163.2 L1517.5,163.2 L1518.4,163.1 L1519.2,163.1 L1520.0,163.0 L1520.9,163.0 L1521.7,162.9 L1522.5,162.9 L1523.4,162.8 L1524.2,162.8 L1525.0,162.8 L1525.9,162.7 L1526.7,162.7 L1527.6,162.6 L1528.4,162.6 L1529.2,162.5 L1530.1,162.5 L1530.9,162.5 L1531.7,162.4 L1532.6,162.4 L1533.4,162.3 L1534.2,162.3 L1535.1,162.3 L1535.9,162.2 L1536.8,162.2 L1537.6,162.2 L1538.4,162.1 L1539.3,162.1 L1540.1,162.0 L1540.9,162.0 L1541.8,162.0 L1542.6,161.9 L1543.4,161.9 L1544.3,161.9 L1545.1,161.8 L1545.9,161.8 L1546.8,161.8 L1547.6,161.7 L1548.5,161.7 L1549.3,161.7 L1550.1,161.6 L1551.0,161.6 L1551.8,161.6 L1552.6,161.6 L1553.5,161.5 L1554.3,161.5 L1555.1,161.5 L1556.0,161.4 L1556.8,161.4 L1557.6,161.4 L1558.5,161.4 L1559.3,161.3 L1560.2,161.3 L1561.0,161.3 L1561.8,161.3 L1562.7,161.2 L1563.5,161.2 L1564.3,161.2 L1565.2,161.2 L1566.0,161.1 L1566.8,161.1 L1567.7,161.1 L1568.5,161.1 L1569.4,161.0 L1570.2,161.0 L1571.0,161.0 L1571.9,161.0 L1572.7,160.9 L1573.5,160.9 L1574.4,160.9 L1575.2,160.9 L1576.0,160.9 L1576.9,160.8 L1577.7,160.8 L1578.5,160.8 L1579.4,160.8 L1580.2,160.8 L1581.1,160.7 L1581.9,160.7 L1582.7,160.7 L1583.6,160.7 L1584.4,160.7 L1585.2,160.7 L1586.1,160.6 L1586.9,160.6 L1587.7,160.6 L1588.6,160.6 L1589.4,160.6 L1590.2,160.6 L1591.1,160.5 L1591.9,160.5 L1592.8,160.5 L1593.6,160.5 L1594.4,160.5 L1595.3,160.5 L1596.1,160.4 L1596.9,160.4 L1597.8,160.4 L1598.6,160.4 L1599.4,160.4 L1600.3,160.4 L1601.1,160.4 L1602.0,160.3 L1602.8,160.3 L1603.6,160.3 L1604.5,160.3 L1605.3,160.3 L1606.1,160.3 L1607.0,160.3 L1607.8,160.3 L1608.6,160.2 L1609.5,160.2 L1610.3,160.2 L1611.1,160.2 L1612.0,160.2 L1612.8,160.2 L1613.7,160.2 L1614.5,160.2 L1615.3,160.2 L1616.2,160.1 L1617.0,160.1 L1617.8,160.1 L1618.7,160.1 L1619.5,160.1 L1620.3,160.1 L1621.2,160.1 L1622.0,160.1 L1622.8,160.1 L1623.7,160.1 L1624.5,160.0 L1625.4,160.0 L1626.2,160.0 L1627.0,160.0 L1627.9,160.0 L1628.7,160.0 L1629.5,160.0 L1630.4,160.0 L1631.2,160.0 L1632.0,160.0 L1632.9,160.0 L1633.7,159.9 L1634.6,159.9 L1635.4,159.9 L1636.2,159.9 L1637.1,159.9 L1637.9,159.9 L1638.7,159.9 L1639.6,159.9 L1640.4,159.9 L1641.2,159.9 L1642.1,159.9 L1642.9,159.9 L1643.7,159.9 L1644.6,159.9 L1645.4,159.9 L1646.3,159.8 L1647.1,159.8 L1647.9,159.8 L1648.8,159.8 L1649.6,159.8 L1650.4,159.8 L1651.3,159.8 L1652.1,159.8 L1652.9,159.8 L1653.8,159.8 L1654.6,159.8 L1655.4,159.8 L1656.3,159.8 L1657.1,159.8 L1658.0,159.8 L1658.8,159.8 L1659.6,159.8 L1660.5,159.8 L1661.3,159.8 L1662.1,159.7 L1663.0,159.7 L1663.8,159.7 L1664.6,159.7 L1665.5,159.7 L1666.3,159.7 L1667.2,159.7 L1668.0,159.7 L1668.8,159.7 L1669.7,159.7 L1670.5,159.7 L1671.3,159.7 L1672.2,159.7 L1673.0,159.7 L1673.8,159.7 L1674.7,159.7 L1675.5,159.7 L1676.3,159.7 L1677.2,159.7 L1678.0,159.7 L1678.9,159.7 L1679.7,159.7 L1680.5,159.7 L1681.4,159.7 L1682.2,159.7 L1683.0,159.7 L1683.9,159.7 L1684.7,159.7 L1685.5,159.6 L1686.4,159.6 L1687.2,159.6 L1688.0,159.6 L1688.9,159.6 L1689.7,159.6 L1690.6,159.6 L1691.4,159.6 L1692.2,159.6 L1693.1,159.6 L1693.9,159.6 L1694.7,159.6 L1695.6,159.6 L1696.4,159.6 L1697.2,159.6 L1698.1,159.6 L1698.9,159.6 L1699.8,159.6 L1700.6,159.6 L1701.4,159.6 L1702.3,159.6 L1703.1,159.6 L1703.9,159.6 L1704.8,159.6 L1705.6,159.6 L1706.4,159.6 L1707.3,159.6 L1708.1,159.6 L1708.9,159.6 L1709.8,159.6 L1710.6,159.6 L1711.5,159.6 L1712.3,159.6 L1713.1,159.6 L1714.0,159.6 L1714.8,159.6 L1715.6,159.6 L1716.5,159.6 L1717.3,159.6 L1718.1,159.6 L1719.0,159.6 L1719.8,159.6 L1720.6,159.6 L1721.5,159.6 L1722.3,159.6 L1723.2,159.6 L1724.0,159.6 L1724.8,159.6 L1725.7,159.6 L1726.5,159.6 L1727.3,159.6 L1728.2,159.6 L1729.0,159.6 L1729.8,159.6 L1730.7,159.6 L1731.5,159.6 L1732.4,159.5 L1733.2,159.5 L1734.0,159.5 L1734.9,159.5 L1735.7,159.5 L1736.5,159.5 L1737.4,159.5 L1738.2,159.5 L1739.0,159.5 L1739.9,159.5 L1740.7,159.5 L1741.5,159.5 L1742.4,159.5 L1743.2,159.5 L1744.1,159.5 L1744.9,159.5 L1745.7,159.5 L1746.6,159.5 L1747.4,159.5 L1748.2,159.5 L1749.1,159.5 L1749.9,159.5 L1750.7,159.5 L1751.6,159.5 L1752.4,159.5 L1753.2,159.5 L1754.1,159.5 L1754.9,159.5 L1755.8,159.5 L1756.6,159.5 L1757.4,159.5 L1758.3,159.5 L1759.1,159.5 L1759.9,159.5 L1760.8,159.5 L1761.6,159.5 L1762.4,159.5 L1763.3,159.5 L1764.1,159.5 L1765.0,159.5 L1765.8,159.5 L1766.6,159.5 L1767.5,159.5 L1768.3,159.5 L1769.1,159.5 L1770.0,159.5 L1770.8,159.5 L1771.6,159.5 L1772.5,159.5 L1773.3,159.5 L1774.1,159.5 L1775.0,159.5 L1775.8,159.5 L1776.7,159.5 L1777.5,159.5 L1778.3,159.5 L1779.2,159.5 L1780.0,159.5 L1780.8,159.5 L1781.7,159.5 L1782.5,159.5 L1783.3,159.5 L1784.2,159.5 L1785.0,159.5 L1785.9,159.5 L1786.7,159.5 L1787.5,159.5 L1788.4,159.5 L1789.2,159.5 L1790.0,159.5 L1790.9,159.5 L1791.7,159.5 L1792.5,159.5 L1793.4,159.5 L1794.2,159.5 L1795.0,159.5 L1795.9,159.5 L1796.7,159.5 L1797.6,159.5 L1798.4,159.5 L1799.2,159.5 L1800.1,159.5 L1800.9,159.5 L1801.7,159.5 L1802.6,159.5 L1803.4,159.5 L1804.2,159.5 L1805.1,159.5 L1805.9,159.5 L1806.7,159.5 L1807.6,159.5 L1808.4,159.5 L1809.3,159.5 L1810.1,159.5 L1810.9,159.5 L1811.8,159.5 L1812.6,159.5 L1813.4,159.5 L1814.3,159.5 L1815.1,159.5 L1815.9,159.5 L1816.8,159.5 L1817.6,159.5 L1818.5,159.5 L1819.3,159.5 L1820.1,159.5 L1821.0,159.5 L1821.8,159.5 L1822.6,159.5 L1823.5,159.5 L1824.3,159.5 L1825.1,159.5 L1826.0,159.5 L1826.8,159.5 L1827.6,159.5 L1828.5,159.5 L1829.3,159.5 L1830.2,159.5 L1831.0,159.5 L1831.8,159.5 L1832.7,159.5 L1833.5,159.5 L1834.3,159.5 L1835.2,159.5 L1836.0,159.5 L1836.8,159.5 L1837.7,159.5 L1838.5,159.5 L1839.3,159.5 L1840.2,159.5 L1841.0,159.5 L1841.9,159.5 L1842.7,159.5 L1843.5,159.5 L1844.4,159.5 L1845.2,159.5 L1846.0,159.5 L1846.9,159.5 L1847.7,159.5 L1848.5,159.5 L1849.4,159.5 L1850.2,159.5 L1851.1,159.5 L1851.9,159.5 L1852.7,159.5 L1853.6,159.5 L1854.4,159.5 L1855.2,159.5 L1856.1,159.5 L1856.9,159.5 L1857.7,159.5 L1858.6,159.5 L1859.4,159.5 L1860.2,159.5 L1861.1,159.5 L1861.9,159.5 L1862.8,159.5 L1863.6,159.5 L1864.4,159.5 L1865.3,159.5 L1866.1,159.5 L1866.9,159.5 L1867.8,159.5 L1868.6,159.5 L1869.4,159.5 L1870.3,159.5 L1871.1,159.5 L1871.9,159.5 L1872.8,159.5 L1873.6,159.5 L1874.5,159.5 L1875.3,159.5 L1876.1,159.5 L1877.0,159.5 L1877.8,159.5 L1878.6,159.5 L1879.5,159.5 L1880.3,159.5 L1881.1,159.5 L1882.0,159.5 L1882.8,159.5 L1883.7,159.5 L1884.5,159.5 L1885.3,159.5 L1886.2,159.5 L1887.0,159.5 L1887.8,159.5 L1888.7,159.5 L1889.5,159.5 L1890.3,159.5 L1891.2,159.5 L1892.0,159.5 L1892.8,159.5 L1893.7,159.5 L1894.5,159.5 L1895.4,159.5 L1896.2,159.5 L1897.0,159.5 L1897.9,159.5 L1898.7,159.5 L1899.5,159.5 L1900.4,159.5 L1901.2,159.5 L1902.0,159.5 L1902.9,159.5 L1903.7,159.5 L1904.5,159.5 L1905.4,159.5 L1906.2,159.5 L1907.1,159.5 L1907.9,159.5 L1908.7,159.5 L1909.6,159.5 L1910.4,159.5 L1911.2,159.5 L1912.1,159.5 L1912.9,159.5 L1913.7,159.5 L1914.6,159.5 L1915.4,159.5 L1916.3,159.5 L1917.1,159.5 L1917.9,159.5 L1918.8,159.5 L1919.6,159.5 L1920.4,159.5 L1921.3,159.5 L1922.1,159.5 L1922.9,159.5 L1923.8,159.5 L1924.6,159.5 L1925.4,159.5 L1926.3,159.5 L1927.1,159.5 L1928.0,159.5 L1928.8,159.5 L1929.6,159.5 L1930.5,159.5 L1931.3,159.5 L1932.1,159.5 L1933.0,159.5 L1933.8,159.5 L1934.6,159.5 L1935.5,159.5 L1936.3,159.5 L1937.1,159.5 L1938.0,159.5 L1938.8,159.5 L1939.7,159.5 L1940.5,159.5 L1941.3,159.5 L1942.2,159.5 L1943.0,159.5 L1943.8,159.5 L1944.7,159.5 L1945.5,159.5 L1946.3,159.5 L1947.2,159.5 L1948.0,159.5 L1948.9,159.5 L1949.7,159.5 L1950.5,159.5 L1951.4,159.5 L1952.2,159.5 L1953.0,159.5 L1953.9,159.5 L1954.7,159.5 L1955.5,159.5 L1956.4,159.5 L1957.2,159.5 L1958.0,159.5 L1958.9,159.5 L1959.7,159.5 L1960.6,159.5 L1961.4,159.5 L1962.2,159.5 L1963.1,159.5 L1963.9,159.5 L1964.7,159.5 L1965.6,159.5 L1966.4,159.5 L1967.2,159.5 L1968.1,159.5 L1968.9,159.5 L1969.7,159.5 L1970.6,159.5 L1971.4,159.5 L1972.3,159.5 L1973.1,159.5 L1973.9,159.5 L1974.8,159.5 L1975.6,159.5 L1976.4,159.5 L1977.3,159.5 L1978.1,159.5 L1978.9,159.5 L1979.8,159.5 L1980.6,159.5 L1981.5,159.5 L1982.3,159.5 L1983.1,159.5 L1984.0,159.5 L1984.8,159.5 L1985.6,159.5 L1986.5,159.5 L1987.3,159.5 L1987.8,159.5" stroke="#FF0000" stroke-width="3.8"/>
</g>
<line x1="321" y1="20" x2="321" y2="1398.5" stroke="#000" stroke-width="6"/><line x1="318" y1="1384.3" x2="2163.7" y2="1384.3" stroke="#000" stroke-width="7.6"/><line x1="306" y1="20.0" x2="321" y2="20.0" stroke="#000" stroke-width="7.4"/><line x1="294" y1="144.0" x2="321" y2="144.0" stroke="#000" stroke-width="7.4"/><line x1="306" y1="268.0" x2="321" y2="268.0" stroke="#000" stroke-width="7.4"/><line x1="294" y1="392.0" x2="321" y2="392.0" stroke="#000" stroke-width="7.4"/><line x1="306" y1="516.0" x2="321" y2="516.0" stroke="#000" stroke-width="7.4"/><line x1="294" y1="640.0" x2="321" y2="640.0" stroke="#000" stroke-width="7.4"/><line x1="306" y1="764.0" x2="321" y2="764.0" stroke="#000" stroke-width="7.4"/><line x1="294" y1="888.0" x2="321" y2="888.0" stroke="#000" stroke-width="7.4"/><line x1="306" y1="1012.0" x2="321" y2="1012.0" stroke="#000" stroke-width="7.4"/><line x1="294" y1="1136.0" x2="321" y2="1136.0" stroke="#000" stroke-width="7.4"/><line x1="306" y1="1260.0" x2="321" y2="1260.0" stroke="#000" stroke-width="7.4"/><line x1="294" y1="1384.0" x2="321" y2="1384.0" stroke="#000" stroke-width="7.4"/><line x1="488.2" y1="1384.3" x2="488.2" y2="1412.2" stroke="#000" stroke-width="6.6"/><line x1="655.4" y1="1384.3" x2="655.4" y2="1398.5" stroke="#000" stroke-width="6.6"/><line x1="822.6" y1="1384.3" x2="822.6" y2="1412.2" stroke="#000" stroke-width="6.6"/><line x1="989.7" y1="1384.3" x2="989.7" y2="1398.5" stroke="#000" stroke-width="6.6"/><line x1="1156.9" y1="1384.3" x2="1156.9" y2="1412.2" stroke="#000" stroke-width="6.6"/><line x1="1324.1" y1="1384.3" x2="1324.1" y2="1398.5" stroke="#000" stroke-width="6.6"/><line x1="1491.3" y1="1384.3" x2="1491.3" y2="1412.2" stroke="#000" stroke-width="6.6"/><line x1="1658.5" y1="1384.3" x2="1658.5" y2="1398.5" stroke="#000" stroke-width="6.6"/><line x1="1825.6" y1="1384.3" x2="1825.6" y2="1412.2" stroke="#000" stroke-width="6.6"/><line x1="1992.8" y1="1384.3" x2="1992.8" y2="1398.5" stroke="#000" stroke-width="6.6"/><line x1="2160.0" y1="1384.3" x2="2160.0" y2="1412.2" stroke="#000" stroke-width="6.6"/>
<g class="txt">
<text transform="translate(276.5,159.1) scale(1,1.034)" text-anchor="end" class="tk">0</text><text transform="translate(276.5,407.1) scale(1,1.034)" text-anchor="end" class="tk">-2</text><text transform="translate(276.5,655.1) scale(1,1.034)" text-anchor="end" class="tk">-4</text><text transform="translate(276.5,903.1) scale(1,1.034)" text-anchor="end" class="tk">-6</text><text transform="translate(276.5,1151.1) scale(1,1.034)" text-anchor="end" class="tk">-8</text><text transform="translate(276.5,1399.1) scale(1,1.034)" text-anchor="end" class="tk">-10</text><text transform="translate(488.2,1472.5) scale(1,1.03)" text-anchor="middle" class="tk">0</text><text transform="translate(822.6,1472.5) scale(1,1.03)" text-anchor="middle" class="tk">200</text><text transform="translate(1156.9,1472.5) scale(1,1.03)" text-anchor="middle" class="tk">400</text><text transform="translate(1491.3,1472.5) scale(1,1.03)" text-anchor="middle" class="tk">600</text><text transform="translate(1825.6,1472.5) scale(1,1.03)" text-anchor="middle" class="tk">800</text><text transform="translate(2160.0,1472.5) scale(1,1.03)" text-anchor="middle" class="tk">1000</text>
<g transform="matrix(0.99060,0,0,1.00186,15.156,0.131)"><text transform="translate(1491.57,300.29) scale(1.0048,1.0435)" font-size="67" fill="#FF00FF">Lignin</text></g><g transform="matrix(0.99891,0,0,0.96985,0.906,12.361)"><text transform="translate(366.47,428.80) scale(1.0052,1.0792)" font-size="67" fill="#00FFFF">Hemicelluloses</text></g><g transform="matrix(0.99792,0,0,0.97363,2.751,14.574)"><text transform="translate(1319.99,600.90) scale(1.0026,1.0667)" font-size="67" fill="#00FF00">Cellulose</text></g><g transform="matrix(0.99775,0,0,0.95348,1.863,33.448)"><text transform="translate(671.31,724.40) scale(0.9972,1.1087)" font-size="67" fill="#000">326°C</text></g><g transform="matrix(0.99536,0,0,0.95967,6.346,34.420)"><text transform="translate(1313.92,874.20) scale(0.9939,1.1000)" font-size="67" fill="#000">359°C</text></g><g transform="matrix(0.99613,0,0,0.95907,5.042,64.223)"><text transform="translate(1172.00,1580.91) scale(0.9985,1.0981)" font-size="67" fill="#000">T,°C</text></g><g transform="matrix(0.99090,0,0,0.99740,-0.053,1.819)"><text transform="translate(95.17,893.05) scale(1.0411,1.0088) rotate(-90)" font-size="67" fill="#000">DTG, %/min</text></g>
</g>
<g stroke-linecap="butt">
<line x1="1200.4" y1="210.4" x2="1426" y2="270.5" stroke="#FF00FF" stroke-width="3.4"/>
<polygon points="1428,260 1424.5,282 1462.5,280.5" fill="#FF00FF"/>
<line x1="995.3" y1="339.7" x2="798" y2="358" stroke="#00FFFF" stroke-width="3.4"/>
<polygon points="762,362 797,348 800,368" fill="#00FFFF"/>
<line x1="1084.4" y1="627.4" x2="1257" y2="598" stroke="#00FF00" stroke-width="3.4"/>
<polygon points="1291.2,592 1255,589 1257.5,607.4" fill="#00FF00"/>
<line x1="1026.3" y1="690.8" x2="929" y2="697" stroke="#000" stroke-width="3"/>
<polygon points="892.6,698.6 929,687.1 929.8,707" fill="#000"/>
<line x1="1090.5" y1="897" x2="1240" y2="875" stroke="#000" stroke-width="3"/>
<polygon points="1275.7,869.6 1238,865.7 1240.8,884.3" fill="#000"/>
</g>
</svg>
</body></html>
